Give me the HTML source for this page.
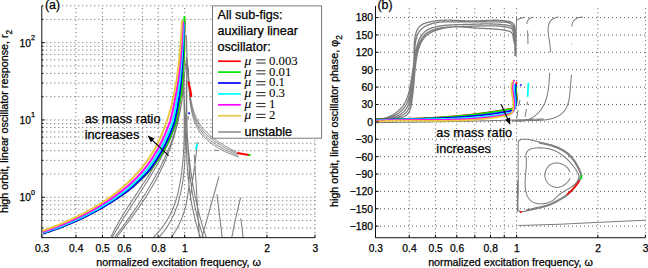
<!DOCTYPE html>
<html><head><meta charset="utf-8"><style>
html,body{margin:0;padding:0;background:#fff;width:648px;height:268px;overflow:hidden}
svg{display:block;font-family:"Liberation Sans",sans-serif}
text{stroke:#000;stroke-width:0.25px}
</style></head><body>
<svg width="648" height="268" viewBox="0 0 648 268">
<path d="M42.3 228.01H315M42.3 220.52H315M42.3 214.4H315M42.3 209.22H315M42.3 204.74H315M42.3 200.79H315M42.3 197.25H315M42.3 173.98H315M42.3 160.37H315M42.3 150.71H315M42.3 143.22H315M42.3 137.1H315M42.3 131.92H315M42.3 127.44H315M42.3 123.49H315M42.3 119.95H315M42.3 96.68H315M42.3 83.07H315M42.3 73.41H315M42.3 65.92H315M42.3 59.8H315M42.3 54.62H315M42.3 50.14H315M42.3 46.19H315M42.3 42.65H315M42.3 19.38H315M42.3 5.77H315M75.93 237.17V5.77M102.41 237.17V5.77M124.04 237.17V5.77M142.33 237.17V5.77M158.17 237.17V5.77M172.15 237.17V5.77M184.65 237.17V5.77M266.89 237.17V5.77M315 237.17V5.77" fill="none" stroke="#5e5e5e" stroke-width="1" stroke-dasharray="1 3"/><path d="M376 226.14H645.4M376 208.76H645.4M376 191.38H645.4M376 174H645.4M376 156.61H645.4M376 139.23H645.4M376 121.85H645.4M376 104.47H645.4M376 87.09H645.4M376 69.7H645.4M376 52.32H645.4M376 34.94H645.4M376 17.56H645.4M409.22 237.23V5.97M435.38 237.23V5.97M456.75 237.23V5.97M474.82 237.23V5.97M490.47 237.23V5.97M504.28 237.23V5.97M516.62 237.23V5.97M597.87 237.23V5.97M645.4 237.23V5.97" fill="none" stroke="#5e5e5e" stroke-width="1" stroke-dasharray="1 3"/><path d="M186.41 57.06 186.51 57.73 186.6 58.4 186.68 59.09 186.77 59.77 186.85 60.46 186.93 61.15 187 61.85 187.08 62.55 187.15 63.25 187.22 63.96 187.28 64.67 187.35 65.38 187.42 66.09 187.48 66.81 187.54 67.54 187.6 68.26 187.66 68.99 187.72 69.72 187.78 70.45 187.84 71.18 187.89 71.92 187.95 72.66 188.01 73.4 188.06 74.14 188.12 74.88 188.17 75.63 188.23 76.37 188.29 77.12 188.35 77.87 188.4 78.62 188.46 79.37 188.52 80.13 188.59 80.88 188.65 81.63 188.71 82.39 188.78 83.14 188.85 83.9 188.91 84.66 188.99 85.41 189.06 86.17 189.13 86.92 189.21 87.68 189.29 88.44 189.37 89.19 189.46 89.95 189.55 90.7 189.64 91.46 189.73 92.21 189.83 92.96 189.93 93.71 190.04 94.46 190.14 95.21 190.26 95.96 190.37 96.7 190.49 97.45 190.62 98.19 190.75 98.93 190.88 99.67 191.02 100.41 191.16 101.14 191.31 101.87 191.46 102.6 191.62 103.33 191.78 104.06 191.95 104.78 192.12 105.5 192.3 106.22 192.49 106.93 192.68 107.64 192.87 108.35 193.08 109.05 193.29 109.75 193.51 110.45 193.73 111.15 193.96 111.84 194.19 112.52 194.44 113.2 194.69 113.88 194.95 114.56 195.21 115.23 195.49 115.89 195.77 116.55 196.06 117.21 196.35 117.86 196.66 118.5 196.97 119.15 197.29 119.78 197.62 120.41 197.96 121.04 198.31 121.66 198.67 122.27 199.03 122.88 199.41 123.49 199.79 124.09 200.19 124.68 200.59 125.26 201 125.84 201.42 126.42 201.86 126.98 202.3 127.55 202.75 128.1 203.2 128.65 203.67 129.2 204.14 129.74 204.63 130.27 205.12 130.8 205.62 131.32 206.12 131.84 206.64 132.35 207.16 132.85 207.69 133.35 208.22 133.85 208.76 134.34 209.31 134.83 209.86 135.31 210.42 135.78 210.99 136.25 211.56 136.72 212.14 137.18 212.72 137.64 213.3 138.09 213.9 138.54 214.49 138.99 215.09 139.42 215.7 139.86 216.31 140.29 216.92 140.72 217.54 141.14 218.16 141.56 218.78 141.97 219.41 142.39 220.04 142.79 220.67 143.2 221.31 143.6 221.95 143.99 222.59 144.38 223.23 144.77 223.87 145.16 224.52 145.54 225.16 145.92 225.81 146.3 226.46 146.67 227.11 147.04 227.76 147.41 228.41 147.77 229.06 148.13 229.72 148.49 230.37 148.84 231.02 149.2 231.67 149.54 232.32 149.89 232.97 150.24 233.62 150.58 234.26 150.92 234.91 151.26 235.55 151.59 236.2 151.93 236.84 152.26 237.47 152.59M186.38 57.08 186.49 57.76 186.6 58.45 186.71 59.14 186.81 59.83 186.9 60.53 187 61.23 187.08 61.94 187.17 62.65 187.25 63.37 187.33 64.08 187.41 64.81 187.48 65.53 187.56 66.26 187.62 66.99 187.69 67.72 187.76 68.46 187.82 69.2 187.88 69.94 187.94 70.69 188 71.43 188.06 72.18 188.11 72.94 188.17 73.69 188.22 74.45 188.27 75.2 188.33 75.96 188.38 76.73 188.43 77.49 188.48 78.25 188.53 79.02 188.59 79.79 188.64 80.55 188.69 81.32 188.75 82.09 188.8 82.86 188.86 83.63 188.92 84.41 188.97 85.18 189.03 85.95 189.1 86.72 189.16 87.5 189.22 88.27 189.29 89.04 189.36 89.82 189.43 90.59 189.51 91.36 189.59 92.13 189.67 92.9 189.75 93.67 189.84 94.44 189.93 95.21 190.02 95.97 190.12 96.74 190.22 97.5 190.32 98.26 190.43 99.02 190.54 99.78 190.66 100.54 190.78 101.29 190.91 102.05 191.04 102.8 191.18 103.55 191.32 104.29 191.47 105.04 191.62 105.78 191.78 106.52 191.94 107.25 192.11 107.98 192.29 108.71 192.47 109.44 192.66 110.16 192.86 110.88 193.06 111.6 193.27 112.31 193.49 113.02 193.71 113.72 193.94 114.43 194.18 115.12 194.43 115.81 194.68 116.5 194.94 117.19 195.21 117.87 195.49 118.54 195.78 119.21 196.07 119.87 196.38 120.53 196.69 121.19 197.01 121.84 197.34 122.48 197.68 123.12 198.03 123.75 198.39 124.38 198.76 125 199.14 125.62 199.53 126.23 199.93 126.83 200.34 127.43 200.76 128.02 201.2 128.61 201.64 129.19 202.09 129.76 202.55 130.33 203.02 130.89 203.5 131.44 203.99 131.99 204.49 132.53 204.99 133.07 205.51 133.6 206.03 134.13 206.56 134.64 207.1 135.16 207.65 135.67 208.21 136.17 208.77 136.67 209.34 137.16 209.91 137.64 210.49 138.12 211.08 138.6 211.68 139.07 212.28 139.53 212.88 139.99 213.49 140.45 214.11 140.9 214.73 141.34 215.36 141.78 215.99 142.21 216.62 142.64 217.26 143.06 217.9 143.48 218.55 143.9 219.2 144.31 219.85 144.71 220.5 145.11 221.16 145.51 221.82 145.9 222.49 146.29 223.15 146.67 223.82 147.05 224.49 147.42 225.16 147.79 225.83 148.15 226.5 148.51 227.17 148.87 227.84 149.22 228.52 149.57 229.19 149.91 229.86 150.25 230.54 150.59 231.21 150.92 231.88 151.25 232.55 151.57 233.22 151.89 233.88 152.21 234.55 152.52 235.21 152.83 235.87 153.14 236.53 153.44 237.19 153.74 237.84 154.03M186.35 57.11 186.48 57.8 186.61 58.49 186.73 59.19 186.85 59.9 186.96 60.61 187.07 61.32 187.17 62.04 187.27 62.76 187.36 63.49 187.45 64.22 187.54 64.95 187.62 65.69 187.7 66.43 187.77 67.17 187.85 67.92 187.92 68.67 187.98 69.42 188.05 70.17 188.11 70.93 188.17 71.69 188.22 72.46 188.28 73.22 188.33 73.99 188.38 74.76 188.43 75.54 188.48 76.31 188.53 77.09 188.58 77.87 188.62 78.65 188.67 79.43 188.71 80.21 188.76 80.99 188.8 81.78 188.85 82.57 188.9 83.35 188.94 84.14 188.99 84.93 189.04 85.72 189.08 86.51 189.13 87.3 189.19 88.09 189.24 88.88 189.29 89.67 189.35 90.46 189.41 91.25 189.47 92.04 189.53 92.82 189.6 93.61 189.67 94.4 189.74 95.19 189.81 95.97 189.89 96.76 189.97 97.54 190.06 98.32 190.15 99.1 190.24 99.88 190.34 100.66 190.44 101.44 190.54 102.21 190.66 102.98 190.77 103.75 190.89 104.52 191.02 105.28 191.15 106.05 191.29 106.81 191.43 107.56 191.58 108.32 191.73 109.07 191.89 109.82 192.06 110.56 192.23 111.31 192.42 112.05 192.6 112.78 192.8 113.51 193 114.24 193.21 114.96 193.43 115.68 193.65 116.4 193.89 117.11 194.13 117.82 194.38 118.52 194.64 119.22 194.91 119.91 195.18 120.6 195.47 121.29 195.76 121.96 196.07 122.64 196.38 123.31 196.7 123.97 197.04 124.63 197.38 125.28 197.73 125.93 198.1 126.57 198.47 127.2 198.86 127.83 199.26 128.45 199.67 129.07 200.08 129.68 200.51 130.28 200.96 130.88 201.41 131.47 201.87 132.05 202.35 132.63 202.83 133.2 203.33 133.76 203.84 134.32 204.35 134.87 204.88 135.42 205.41 135.96 205.95 136.49 206.51 137.02 207.07 137.54 207.63 138.05 208.21 138.56 208.79 139.06 209.39 139.56 209.98 140.05 210.59 140.53 211.2 141.01 211.82 141.48 212.45 141.95 213.08 142.41 213.71 142.86 214.35 143.31 215 143.75 215.65 144.19 216.31 144.62 216.97 145.05 217.64 145.47 218.3 145.88 218.98 146.29 219.65 146.69 220.33 147.09 221.01 147.48 221.7 147.87 222.38 148.25 223.07 148.62 223.76 148.99 224.45 149.35 225.15 149.71 225.84 150.06 226.54 150.41 227.23 150.75 227.93 151.09 228.62 151.42 229.32 151.75 230.01 152.07 230.71 152.39 231.4 152.7 232.09 153 232.78 153.3 233.47 153.6 234.16 153.89 234.84 154.17 235.53 154.45 236.21 154.73 236.88 155 237.55 155.27 238.22 155.53M186.32 57.13 186.47 57.83 186.62 58.54 186.76 59.25 186.89 59.96 187.02 60.68 187.14 61.4 187.25 62.13 187.36 62.87 187.47 63.6 187.57 64.34 187.66 65.09 187.75 65.84 187.84 66.59 187.92 67.34 188 68.1 188.07 68.87 188.14 69.63 188.21 70.4 188.27 71.17 188.33 71.95 188.39 72.72 188.44 73.5 188.49 74.29 188.54 75.07 188.59 75.86 188.63 76.65 188.68 77.44 188.72 78.23 188.76 79.03 188.8 79.82 188.84 80.62 188.87 81.42 188.91 82.22 188.95 83.02 188.99 83.83 189.02 84.63 189.06 85.43 189.1 86.24 189.13 87.05 189.17 87.85 189.21 88.66 189.25 89.47 189.29 90.27 189.34 91.08 189.38 91.89 189.43 92.69 189.48 93.5 189.53 94.3 189.59 95.11 189.64 95.91 189.7 96.72 189.77 97.52 189.83 98.32 189.9 99.12 189.98 99.92 190.05 100.72 190.14 101.51 190.22 102.31 190.31 103.1 190.41 103.89 190.51 104.68 190.61 105.46 190.72 106.25 190.84 107.03 190.96 107.81 191.09 108.58 191.22 109.35 191.36 110.12 191.51 110.89 191.66 111.66 191.82 112.42 191.99 113.17 192.16 113.93 192.34 114.68 192.53 115.42 192.73 116.17 192.93 116.91 193.14 117.64 193.37 118.37 193.6 119.1 193.83 119.82 194.08 120.53 194.34 121.25 194.6 121.95 194.88 122.66 195.17 123.35 195.46 124.05 195.77 124.73 196.08 125.41 196.41 126.09 196.75 126.76 197.1 127.42 197.45 128.08 197.83 128.74 198.21 129.38 198.6 130.02 199.01 130.66 199.42 131.28 199.85 131.9 200.3 132.52 200.75 133.12 201.22 133.72 201.7 134.32 202.19 134.9 202.69 135.48 203.2 136.06 203.73 136.62 204.26 137.18 204.81 137.74 205.36 138.28 205.92 138.82 206.5 139.35 207.08 139.88 207.67 140.4 208.27 140.91 208.88 141.42 209.49 141.92 210.11 142.41 210.74 142.9 211.38 143.38 212.02 143.85 212.67 144.31 213.33 144.77 213.99 145.23 214.66 145.67 215.33 146.11 216.01 146.54 216.69 146.97 217.38 147.39 218.07 147.8 218.76 148.21 219.46 148.61 220.16 149.01 220.87 149.39 221.57 149.77 222.28 150.15 222.99 150.52 223.71 150.88 224.42 151.23 225.14 151.58 225.86 151.92 226.57 152.26 227.29 152.58 228.01 152.91 228.73 153.22 229.44 153.53 230.16 153.84 230.88 154.13 231.59 154.42 232.3 154.71 233.01 154.98 233.72 155.25 234.43 155.52 235.13 155.78 235.83 156.03 236.53 156.28 237.22 156.51 237.91 156.75 238.59 156.97" fill="none" stroke="#707070" stroke-width="0.9"/><path d="M110.73 237.19 111.23 236.17 111.74 235.15 112.25 234.14 112.77 233.13 113.29 232.11 113.82 231.11 114.35 230.1 114.89 229.09 115.43 228.09 115.98 227.09 116.53 226.09 117.09 225.09 117.65 224.09 118.22 223.09 118.79 222.1 119.36 221.11 119.94 220.11 120.52 219.12 121.11 218.13 121.69 217.15 122.29 216.16 122.88 215.17 123.48 214.19 124.08 213.2 124.69 212.22 125.3 211.24 125.91 210.26 126.52 209.28 127.14 208.3 127.75 207.32 128.37 206.34 129 205.36 129.62 204.38 130.25 203.41 130.88 202.43 131.51 201.46 132.14 200.48 132.77 199.51 133.4 198.53 134.04 197.56 134.67 196.58 135.31 195.61 135.95 194.64 136.59 193.67 137.23 192.69 137.87 191.72 138.51 190.75 139.15 189.77 139.79 188.8 140.43 187.83 141.07 186.86 141.71 185.88 142.34 184.91 142.98 183.93 143.62 182.96 144.26 181.99 144.89 181.01 145.53 180.04 146.16 179.06 146.8 178.08 147.43 177.11 148.06 176.13 148.69 175.15 149.31 174.17 149.94 173.19 150.56 172.21 151.18 171.23 151.8 170.25 152.42 169.26 153.03 168.28 153.64 167.3 154.25 166.31 154.85 165.32 155.46 164.33 156.06 163.34 156.65 162.35 157.25 161.36 157.83 160.37 158.42 159.37 159 158.38 159.58 157.38 160.16 156.38 160.73 155.38 161.29 154.38 161.85 153.38 162.41 152.37 162.97 151.36 163.51 150.36 164.06 149.35 164.6 148.33 165.13 147.32 165.66 146.3 166.18 145.29 166.7 144.27 167.21 143.24 167.72 142.22 168.22 141.19 168.72 140.17 169.21 139.14 169.69 138.1 170.17 137.07 170.64 136.03 171.1 134.99 171.56 133.95 172.01 132.9 172.46 131.86 172.89 130.81 173.32 129.76 173.75 128.7 174.16 127.64 174.57 126.58 174.97 125.52 175.36 124.46 175.75 123.39 176.13 122.32 176.5 121.24 176.86 120.16 177.21 119.08 177.55 118 177.89 116.92 178.22 115.83 178.54 114.73 178.85 113.64 179.15 112.54 179.44 111.44 179.72 110.33 179.99 109.22 180.26 108.11 180.51 106.99 180.76 105.87 180.99 104.75 181.22 103.62 181.43 102.49 181.63 101.36 181.83 100.22 182.01 99.08 182.18 97.93 182.35 96.78 182.5 95.63 182.64 94.47 182.77 93.31 182.89 92.15 182.99 90.98 183.09 89.81 183.17 88.63 183.24 87.45 183.3 86.26 183.35 85.07 183.39 83.88 183.41 82.68 183.43 81.47 183.43 80.27 183.41 79.05 183.39 77.84 183.35 76.62 183.3 75.39 183.24 74.16 183.16 72.92 183.07 71.68M112.3 237.1 112.85 236.11 113.4 235.13 113.96 234.15 114.52 233.17 115.09 232.19 115.65 231.21 116.23 230.23 116.8 229.25 117.38 228.28 117.97 227.3 118.55 226.32 119.14 225.35 119.73 224.37 120.33 223.4 120.92 222.43 121.52 221.45 122.12 220.48 122.73 219.51 123.34 218.54 123.94 217.56 124.56 216.59 125.17 215.62 125.78 214.65 126.4 213.68 127.02 212.71 127.64 211.74 128.26 210.77 128.88 209.8 129.51 208.83 130.13 207.86 130.76 206.89 131.38 205.92 132.01 204.95 132.64 203.98 133.27 203.01 133.9 202.04 134.53 201.06 135.16 200.09 135.79 199.12 136.42 198.15 137.05 197.18 137.69 196.21 138.32 195.23 138.95 194.26 139.58 193.29 140.21 192.31 140.84 191.34 141.46 190.36 142.09 189.39 142.72 188.41 143.34 187.44 143.97 186.46 144.59 185.48 145.21 184.5 145.84 183.52 146.45 182.54 147.07 181.56 147.69 180.58 148.3 179.6 148.92 178.61 149.53 177.63 150.13 176.64 150.74 175.66 151.34 174.67 151.94 173.68 152.54 172.69 153.14 171.7 153.73 170.71 154.32 169.72 154.91 168.72 155.5 167.73 156.08 166.73 156.66 165.73 157.23 164.73 157.8 163.73 158.37 162.73 158.93 161.73 159.49 160.72 160.05 159.71 160.6 158.71 161.15 157.7 161.7 156.69 162.24 155.67 162.77 154.66 163.3 153.64 163.83 152.63 164.35 151.61 164.87 150.59 165.38 149.56 165.89 148.54 166.39 147.51 166.89 146.48 167.38 145.45 167.87 144.42 168.35 143.39 168.83 142.35 169.3 141.31 169.76 140.27 170.22 139.23 170.67 138.19 171.12 137.14 171.56 136.09 171.99 135.04 172.42 133.99 172.84 132.93 173.26 131.87 173.66 130.81 174.07 129.75 174.46 128.68 174.85 127.62 175.23 126.55 175.6 125.48 175.96 124.4 176.32 123.32 176.67 122.24 177.01 121.16 177.35 120.08 177.68 118.99 178 117.9 178.31 116.8 178.61 115.71 178.91 114.61 179.19 113.51 179.47 112.4 179.74 111.3 180 110.19 180.25 109.07 180.5 107.96 180.73 106.84 180.96 105.72 181.17 104.59 181.38 103.46 181.58 102.33 181.77 101.2 181.94 100.06 182.11 98.92 182.27 97.77 182.42 96.62 182.56 95.47 182.69 94.32 182.81 93.16 182.92 92 183.02 90.84 183.11 89.67 183.18 88.5 183.25 87.32 183.31 86.14 183.35 84.96 183.39 83.78 183.41 82.59 183.42 81.39 183.42 80.2 183.41 79 183.39 77.79 183.35 76.58 183.31 75.37 183.25 74.16 183.18 72.94 183.1 71.71M114.93 236.85 115.61 235.96 116.29 235.06 116.98 234.17 117.66 233.27 118.34 232.38 119.02 231.48 119.7 230.58 120.38 229.67 121.06 228.77 121.73 227.86 122.41 226.95 123.08 226.04 123.76 225.13 124.43 224.21 125.1 223.29 125.78 222.38 126.45 221.46 127.11 220.53 127.78 219.61 128.45 218.68 129.11 217.75 129.78 216.83 130.44 215.89 131.1 214.96 131.76 214.02 132.41 213.09 133.07 212.15 133.72 211.21 134.37 210.26 135.02 209.32 135.67 208.37 136.31 207.42 136.96 206.47 137.6 205.52 138.24 204.57 138.88 203.61 139.51 202.65 140.14 201.69 140.77 200.73 141.4 199.77 142.02 198.8 142.65 197.83 143.27 196.86 143.88 195.89 144.5 194.92 145.11 193.94 145.72 192.97 146.33 191.99 146.93 191.01 147.53 190.03 148.13 189.04 148.72 188.06 149.31 187.07 149.9 186.08 150.48 185.09 151.07 184.09 151.64 183.1 152.22 182.1 152.79 181.1 153.36 180.1 153.92 179.1 154.48 178.09 155.04 177.09 155.59 176.08 156.14 175.07 156.69 174.06 157.23 173.04 157.77 172.03 158.3 171.01 158.83 169.99 159.35 168.97 159.88 167.94 160.39 166.92 160.91 165.89 161.42 164.86 161.92 163.83 162.42 162.8 162.91 161.76 163.41 160.73 163.89 159.69 164.37 158.65 164.85 157.61 165.32 156.56 165.79 155.52 166.25 154.47 166.71 153.42 167.16 152.37 167.61 151.32 168.05 150.26 168.49 149.2 168.92 148.15 169.35 147.09 169.77 146.02 170.19 144.96 170.6 143.89 171.01 142.83 171.41 141.76 171.8 140.68 172.19 139.61 172.58 138.54 172.95 137.46 173.33 136.38 173.69 135.3 174.05 134.22 174.41 133.13 174.75 132.05 175.1 130.96 175.43 129.87 175.76 128.78 176.09 127.68 176.41 126.59 176.72 125.49 177.02 124.39 177.32 123.29 177.61 122.19 177.9 121.08 178.18 119.97 178.45 118.87 178.72 117.76 178.98 116.64 179.23 115.53 179.48 114.41 179.72 113.3 179.95 112.18 180.17 111.06 180.39 109.93 180.6 108.81 180.8 107.68 181 106.55 181.19 105.42 181.37 104.29 181.55 103.16 181.71 102.02 181.87 100.88 182.03 99.74 182.17 98.6 182.31 97.46 182.44 96.31 182.56 95.17 182.67 94.02 182.78 92.87 182.88 91.71 182.97 90.56 183.05 89.4 183.12 88.25 183.19 87.09 183.25 85.92 183.3 84.76 183.34 83.6 183.37 82.43 183.39 81.26 183.41 80.09 183.42 78.92 183.42 77.74 183.41 76.57 183.39 75.39 183.36 74.21 183.33 73.03 183.28 71.84M116.87 236.99 117.54 236.08 118.21 235.18 118.89 234.28 119.56 233.37 120.24 232.47 120.92 231.57 121.6 230.67 122.28 229.76 122.96 228.86 123.64 227.96 124.32 227.06 125.01 226.15 125.69 225.25 126.37 224.35 127.06 223.45 127.74 222.54 128.42 221.64 129.1 220.73 129.78 219.82 130.46 218.91 131.14 218 131.82 217.09 132.5 216.18 133.17 215.27 133.84 214.35 134.52 213.44 135.18 212.52 135.85 211.6 136.52 210.67 137.18 209.75 137.84 208.82 138.49 207.89 139.15 206.96 139.8 206.03 140.44 205.09 141.09 204.15 141.73 203.21 142.37 202.27 143 201.32 143.63 200.38 144.26 199.43 144.89 198.47 145.51 197.52 146.12 196.56 146.74 195.59 147.35 194.63 147.95 193.66 148.55 192.69 149.15 191.72 149.74 190.74 150.33 189.77 150.91 188.78 151.49 187.8 152.07 186.81 152.64 185.82 153.2 184.83 153.77 183.83 154.32 182.83 154.88 181.83 155.42 180.82 155.97 179.82 156.51 178.81 157.04 177.79 157.57 176.78 158.1 175.76 158.62 174.74 159.13 173.72 159.64 172.69 160.15 171.66 160.65 170.63 161.15 169.6 161.64 168.56 162.13 167.52 162.61 166.48 163.09 165.44 163.56 164.39 164.03 163.35 164.49 162.3 164.95 161.24 165.4 160.19 165.85 159.13 166.29 158.07 166.73 157.01 167.16 155.95 167.59 154.88 168.01 153.81 168.43 152.75 168.84 151.67 169.25 150.6 169.65 149.52 170.05 148.45 170.44 147.37 170.82 146.29 171.2 145.2 171.58 144.12 171.95 143.03 172.31 141.94 172.67 140.85 173.03 139.76 173.37 138.66 173.72 137.57 174.05 136.47 174.38 135.37 174.71 134.27 175.03 133.17 175.35 132.07 175.66 130.96 175.96 129.85 176.26 128.74 176.55 127.63 176.84 126.52 177.12 125.41 177.39 124.3 177.66 123.18 177.93 122.06 178.19 120.95 178.44 119.83 178.68 118.71 178.92 117.58 179.16 116.46 179.39 115.34 179.61 114.21 179.83 113.09 180.04 111.96 180.24 110.83 180.44 109.7 180.64 108.57 180.82 107.44 181 106.3 181.18 105.17 181.35 104.04 181.51 102.9 181.66 101.76 181.81 100.63 181.96 99.49 182.09 98.35 182.23 97.21 182.35 96.07 182.47 94.93 182.58 93.79 182.69 92.65 182.79 91.5 182.88 90.36 182.97 89.22 183.05 88.07 183.12 86.93 183.19 85.78 183.25 84.63 183.3 83.49 183.35 82.34 183.39 81.19 183.42 80.05 183.45 78.9 183.47 77.75 183.49 76.6 183.49 75.45 183.5 74.3 183.49 73.15 183.48 72M184.57 35.02 184.47 36.31 184.38 37.61 184.29 38.91 184.21 40.21 184.13 41.51 184.06 42.82 183.99 44.12 183.92 45.42 183.86 46.73 183.81 48.04 183.76 49.34 183.71 50.65 183.67 51.96 183.63 53.27 183.6 54.58 183.57 55.89 183.54 57.2 183.52 58.52 183.5 59.83 183.48 61.15 183.47 62.46 183.46 63.78 183.46 65.09 183.45 66.41 183.45 67.73 183.45 69.05 183.45 70.36 183.46 71.68 183.47 73 183.48 74.32 183.49 75.64 183.51 76.97 183.52 78.29 183.54 79.61 183.56 80.93 183.58 82.26 183.6 83.58 183.62 84.9 183.65 86.23 183.67 87.55 183.7 88.88 183.72 90.2 183.75 91.53 183.78 92.85 183.81 94.18 183.83 95.5 183.86 96.83 183.89 98.15 183.92 99.48 183.94 100.81 183.97 102.13 184 103.46 184.02 104.79 184.05 106.11 184.07 107.44 184.1 108.77 184.12 110.09 184.14 111.42 184.16 112.75 184.18 114.07 184.19 115.4 184.21 116.73 184.22 118.05 184.23 119.38 184.24 120.71 184.25 122.03 184.25 123.36 184.25 124.68 184.25 126.01 184.25 127.33 184.24 128.66 184.23 129.98 184.22 131.3 184.2 132.63 184.19 133.95 184.16 135.27 184.14 136.6 184.11 137.92 184.08 139.24 184.04 140.56 184 141.88 183.95 143.2 183.9 144.52 183.85 145.84 183.79 147.16 183.73 148.47 183.66 149.79 183.59 151.11 183.51 152.42 183.43 153.74 183.34 155.05 183.25 156.37 183.15 157.68 183.05 158.99 182.94 160.3 182.83 161.62 182.71 162.93 182.58 164.23 182.45 165.54 182.31 166.85 182.16 168.16 182.01 169.46 181.85 170.77 181.68 172.07 181.51 173.37 181.33 174.68 181.15 175.98 180.95 177.28 180.75 178.58 180.54 179.87 180.33 181.17 180.1 182.47 179.87 183.76 179.63 185.05 179.38 186.34 179.12 187.63 178.85 188.92 178.57 190.2 178.28 191.48 177.98 192.76 177.67 194.04 177.34 195.31 177 196.57 176.65 197.83 176.29 199.09 175.91 200.34 175.51 201.59 175.1 202.83 174.67 204.07 174.23 205.3 173.77 206.52 173.29 207.74 172.8 208.95 172.29 210.15 171.75 211.34 171.2 212.53 170.63 213.71 170.04 214.88 169.43 216.04 168.79 217.19 168.14 218.33 167.47 219.47 166.78 220.59 166.07 221.71 165.34 222.81 164.59 223.91 163.83 225 163.04 226.08 162.25 227.15 161.43 228.21 160.6 229.26 159.76 230.3 158.89 231.34 158.02 232.36 157.13 233.37 156.23 234.38 155.31 235.37 154.38 236.35 153.44 237.33M184.81 35.06 184.66 36.33 184.52 37.6 184.39 38.88 184.26 40.16 184.15 41.43 184.04 42.72 183.93 44 183.84 45.28 183.75 46.57 183.66 47.85 183.58 49.14 183.51 50.43 183.45 51.72 183.39 53.02 183.34 54.31 183.29 55.61 183.25 56.91 183.21 58.21 183.18 59.51 183.15 60.81 183.13 62.11 183.11 63.42 183.1 64.72 183.09 66.03 183.09 67.34 183.09 68.65 183.1 69.96 183.1 71.27 183.12 72.58 183.13 73.89 183.15 75.21 183.18 76.52 183.2 77.84 183.23 79.16 183.26 80.48 183.3 81.8 183.33 83.12 183.37 84.44 183.42 85.76 183.46 87.08 183.51 88.4 183.55 89.73 183.6 91.05 183.65 92.37 183.71 93.7 183.76 95.03 183.82 96.35 183.87 97.68 183.93 99.01 183.98 100.33 184.04 101.66 184.1 102.99 184.16 104.32 184.22 105.65 184.27 106.97 184.33 108.3 184.39 109.63 184.45 110.96 184.5 112.29 184.56 113.62 184.61 114.95 184.67 116.28 184.72 117.61 184.77 118.94 184.82 120.27 184.87 121.6 184.91 122.93 184.95 124.26 185 125.59 185.03 126.92 185.07 128.24 185.11 129.57 185.14 130.9 185.16 132.23 185.19 133.55 185.21 134.88 185.23 136.21 185.25 137.53 185.26 138.86 185.27 140.18 185.27 141.51 185.27 142.83 185.27 144.15 185.26 145.47 185.24 146.79 185.23 148.11 185.2 149.43 185.18 150.75 185.14 152.07 185.11 153.39 185.06 154.71 185.01 156.02 184.96 157.33 184.9 158.65 184.83 159.96 184.76 161.27 184.68 162.58 184.6 163.89 184.5 165.2 184.41 166.51 184.3 167.81 184.19 169.12 184.07 170.42 183.94 171.72 183.81 173.02 183.67 174.32 183.52 175.62 183.36 176.91 183.19 178.21 183.02 179.5 182.84 180.79 182.65 182.08 182.45 183.37 182.24 184.66 182.02 185.94 181.79 187.22 181.56 188.5 181.31 189.78 181.05 191.06 180.78 192.33 180.51 193.6 180.21 194.86 179.91 196.13 179.6 197.38 179.27 198.64 178.93 199.89 178.58 201.14 178.21 202.38 177.83 203.62 177.44 204.85 177.03 206.08 176.61 207.3 176.17 208.52 175.72 209.73 175.26 210.94 174.77 212.14 174.27 213.33 173.76 214.52 173.23 215.71 172.68 216.88 172.11 218.05 171.53 219.21 170.93 220.37 170.31 221.52 169.67 222.66 169.01 223.79 168.33 224.91 167.64 226.03 166.92 227.14 166.19 228.24 165.43 229.33 164.65 230.41 163.86 231.49 163.04 232.55 162.2 233.61 161.34 234.65 160.45 235.69 159.54 236.72 158.61 237.73M186.36 60.03 186.17 61.15 185.98 62.27 185.81 63.39 185.65 64.51 185.49 65.63 185.34 66.75 185.21 67.88 185.08 69 184.96 70.12 184.84 71.25 184.74 72.38 184.64 73.5 184.55 74.63 184.47 75.76 184.4 76.89 184.34 78.02 184.28 79.15 184.23 80.28 184.18 81.42 184.14 82.55 184.11 83.68 184.09 84.82 184.07 85.95 184.06 87.09 184.05 88.22 184.05 89.36 184.06 90.49 184.07 91.63 184.08 92.77 184.1 93.91 184.13 95.05 184.16 96.18 184.2 97.32 184.24 98.46 184.28 99.61 184.33 100.75 184.38 101.89 184.44 103.03 184.5 104.17 184.57 105.31 184.64 106.46 184.71 107.6 184.78 108.74 184.86 109.89 184.94 111.03 185.02 112.17 185.11 113.32 185.2 114.46 185.29 115.61 185.38 116.75 185.48 117.9 185.57 119.04 185.67 120.19 185.77 121.33 185.87 122.48 185.97 123.63 186.08 124.77 186.18 125.92 186.28 127.06 186.39 128.21 186.5 129.36 186.6 130.5 186.71 131.65 186.81 132.8 186.92 133.94 187.02 135.09 187.13 136.24 187.23 137.38 187.33 138.53 187.44 139.67 187.54 140.82 187.64 141.97 187.73 143.11 187.83 144.26 187.92 145.4 188.02 146.55 188.11 147.69 188.19 148.84 188.28 149.98 188.36 151.13 188.44 152.27 188.52 153.42 188.6 154.56 188.67 155.7 188.73 156.85 188.8 157.99 188.86 159.13 188.92 160.27 188.97 161.42 189.02 162.56 189.06 163.7 189.1 164.84 189.14 165.98 189.17 167.12 189.19 168.26 189.21 169.4 189.23 170.53 189.23 171.67 189.24 172.81 189.23 173.94 189.22 175.08 189.21 176.21 189.18 177.34 189.15 178.47 189.12 179.6 189.07 180.73 189.02 181.86 188.96 182.99 188.89 184.11 188.82 185.24 188.73 186.36 188.64 187.48 188.54 188.6 188.43 189.72 188.31 190.84 188.19 191.95 188.05 193.07 187.9 194.18 187.75 195.29 187.58 196.4 187.4 197.5 187.22 198.61 187.02 199.71 186.81 200.81 186.59 201.91 186.36 203.01 186.12 204.1 185.87 205.19 185.6 206.28 185.33 207.37 185.04 208.46 184.74 209.54 184.43 210.62 184.1 211.69 183.76 212.77 183.41 213.84 183.05 214.91 182.67 215.97 182.28 217.03 181.87 218.09 181.45 219.15 181.02 220.2 180.57 221.25 180.11 222.3 179.63 223.34 179.14 224.38 178.63 225.41 178.11 226.45 177.57 227.48 177.01 228.5 176.44 229.52 175.86 230.54 175.25 231.55 174.64 232.56 174 233.57 173.35 234.57 172.68 235.56 171.99 236.56 171.29 237.54M186.31 35 186.37 36.27 186.44 37.54 186.5 38.8 186.55 40.07 186.6 41.34 186.65 42.61 186.7 43.88 186.74 45.15 186.78 46.42 186.82 47.69 186.85 48.97 186.88 50.24 186.91 51.51 186.93 52.79 186.96 54.06 186.98 55.34 186.99 56.61 187.01 57.89 187.02 59.17 187.03 60.44 187.04 61.72 187.05 63 187.05 64.28 187.05 65.56 187.05 66.84 187.05 68.12 187.05 69.4 187.04 70.68 187.03 71.96 187.02 73.24 187.01 74.53 187 75.81 186.99 77.09 186.98 78.38 186.96 79.66 186.95 80.94 186.93 82.23 186.91 83.51 186.89 84.8 186.87 86.08 186.85 87.37 186.83 88.65 186.81 89.94 186.79 91.23 186.76 92.51 186.74 93.8 186.72 95.09 186.69 96.37 186.67 97.66 186.65 98.95 186.62 100.23 186.6 101.52 186.58 102.81 186.55 104.1 186.53 105.38 186.51 106.67 186.49 107.96 186.47 109.25 186.44 110.54 186.43 111.82 186.41 113.11 186.39 114.4 186.37 115.69 186.35 116.98 186.34 118.26 186.33 119.55 186.31 120.84 186.3 122.13 186.29 123.41 186.28 124.7 186.27 125.99 186.27 127.28 186.27 128.56 186.26 129.85 186.26 131.14 186.27 132.42 186.27 133.71 186.27 135 186.28 136.28 186.29 137.57 186.3 138.85 186.32 140.14 186.34 141.43 186.36 142.71 186.38 143.99 186.4 145.28 186.43 146.56 186.46 147.85 186.49 149.13 186.53 150.41 186.57 151.7 186.61 152.98 186.66 154.26 186.71 155.54 186.76 156.82 186.82 158.1 186.87 159.38 186.94 160.66 187 161.94 187.07 163.22 187.15 164.5 187.22 165.78 187.31 167.06 187.39 168.33 187.48 169.61 187.58 170.88 187.67 172.16 187.78 173.43 187.88 174.71 187.99 175.98 188.11 177.26 188.23 178.53 188.35 179.8 188.48 181.07 188.62 182.34 188.76 183.61 188.9 184.88 189.05 186.15 189.21 187.42 189.37 188.68 189.53 189.95 189.7 191.22 189.88 192.48 190.06 193.75 190.25 195.01 190.44 196.27 190.64 197.53 190.84 198.79 191.05 200.05 191.27 201.31 191.49 202.57 191.72 203.83 191.95 205.09 192.19 206.34 192.44 207.6 192.69 208.85 192.95 210.11 193.22 211.36 193.49 212.61 193.77 213.86 194.06 215.11 194.35 216.36 194.65 217.61 194.96 218.85 195.27 220.1 195.6 221.34 195.92 222.59 196.26 223.83 196.6 225.07 196.96 226.31 197.31 227.55 197.68 228.79 198.05 230.03 198.44 231.26 198.82 232.5 199.22 233.73 199.63 234.96 200.04 236.19 200.46 237.42M186.46 60.01 186.48 61.12 186.5 62.24 186.52 63.36 186.53 64.47 186.55 65.59 186.57 66.71 186.58 67.82 186.59 68.94 186.61 70.06 186.62 71.18 186.63 72.3 186.64 73.42 186.65 74.54 186.66 75.67 186.66 76.79 186.67 77.91 186.68 79.03 186.68 80.16 186.69 81.28 186.69 82.4 186.7 83.53 186.7 84.65 186.71 85.78 186.71 86.9 186.72 88.03 186.72 89.15 186.72 90.28 186.73 91.41 186.73 92.53 186.73 93.66 186.74 94.79 186.74 95.92 186.74 97.04 186.75 98.17 186.75 99.3 186.76 100.43 186.76 101.56 186.77 102.69 186.77 103.82 186.78 104.95 186.79 106.08 186.79 107.21 186.8 108.33 186.81 109.46 186.82 110.59 186.83 111.72 186.84 112.86 186.85 113.99 186.86 115.12 186.87 116.25 186.89 117.38 186.9 118.51 186.92 119.64 186.94 120.77 186.96 121.9 186.98 123.03 187 124.16 187.02 125.29 187.04 126.42 187.07 127.55 187.09 128.68 187.12 129.81 187.15 130.94 187.18 132.07 187.21 133.2 187.24 134.33 187.28 135.46 187.32 136.59 187.36 137.72 187.4 138.85 187.44 139.98 187.48 141.11 187.53 142.24 187.58 143.37 187.63 144.49 187.68 145.62 187.73 146.75 187.79 147.88 187.85 149 187.91 150.13 187.97 151.26 188.04 152.38 188.11 153.51 188.18 154.64 188.25 155.76 188.32 156.89 188.4 158.01 188.48 159.14 188.57 160.26 188.65 161.39 188.74 162.51 188.83 163.63 188.92 164.76 189.02 165.88 189.12 167 189.22 168.12 189.33 169.24 189.44 170.36 189.55 171.48 189.66 172.6 189.78 173.72 189.9 174.84 190.03 175.96 190.15 177.07 190.29 178.19 190.42 179.31 190.56 180.42 190.7 181.54 190.84 182.65 190.99 183.77 191.14 184.88 191.3 185.99 191.46 187.11 191.62 188.22 191.79 189.33 191.96 190.44 192.13 191.55 192.31 192.66 192.49 193.77 192.68 194.87 192.87 195.98 193.07 197.09 193.26 198.19 193.47 199.3 193.67 200.4 193.89 201.51 194.1 202.61 194.32 203.71 194.55 204.81 194.77 205.91 195.01 207.01 195.25 208.11 195.49 209.21 195.73 210.3 195.99 211.4 196.24 212.49 196.5 213.59 196.77 214.68 197.04 215.77 197.32 216.86 197.6 217.96 197.88 219.04 198.17 220.13 198.47 221.22 198.77 222.31 199.08 223.39 199.39 224.48 199.7 225.56 200.02 226.64 200.35 227.73 200.68 228.81 201.02 229.89 201.36 230.97 201.71 232.04 202.07 233.12 202.43 234.19 202.79 235.27 203.16 236.34 203.54 237.41M186.46 80.01 186.44 81.01 186.42 82.01 186.41 83.01 186.39 84 186.38 85 186.36 86 186.35 87 186.34 88 186.33 89 186.33 90 186.32 91 186.31 92 186.31 93 186.31 94 186.3 95.01 186.3 96.01 186.3 97.01 186.3 98.01 186.31 99.01 186.31 100.02 186.32 101.02 186.32 102.02 186.33 103.02 186.34 104.03 186.35 105.03 186.37 106.03 186.38 107.03 186.39 108.04 186.41 109.04 186.43 110.04 186.45 111.05 186.47 112.05 186.49 113.05 186.52 114.06 186.54 115.06 186.57 116.07 186.6 117.07 186.63 118.07 186.66 119.08 186.69 120.08 186.73 121.08 186.76 122.09 186.8 123.09 186.84 124.1 186.88 125.1 186.93 126.1 186.97 127.11 187.02 128.11 187.07 129.11 187.12 130.12 187.17 131.12 187.22 132.12 187.28 133.13 187.34 134.13 187.39 135.13 187.46 136.14 187.52 137.14 187.58 138.14 187.65 139.14 187.72 140.15 187.79 141.15 187.86 142.15 187.93 143.15 188.01 144.15 188.09 145.16 188.17 146.16 188.25 147.16 188.33 148.16 188.42 149.16 188.51 150.16 188.6 151.16 188.69 152.16 188.78 153.16 188.88 154.16 188.98 155.16 189.08 156.16 189.18 157.16 189.29 158.16 189.39 159.15 189.5 160.15 189.61 161.15 189.73 162.15 189.84 163.14 189.96 164.14 190.08 165.14 190.2 166.13 190.33 167.13 190.45 168.12 190.58 169.12 190.71 170.11 190.85 171.11 190.99 172.1 191.12 173.09 191.27 174.09 191.41 175.08 191.55 176.07 191.7 177.06 191.85 178.06 192.01 179.05 192.16 180.04 192.32 181.03 192.48 182.02 192.65 183.01 192.81 183.99 192.98 184.98 193.15 185.97 193.32 186.96 193.5 187.94 193.68 188.93 193.86 189.92 194.04 190.9 194.23 191.89 194.42 192.87 194.61 193.85 194.81 194.84 195 195.82 195.2 196.8 195.41 197.78 195.61 198.76 195.82 199.74 196.03 200.72 196.24 201.7 196.46 202.68 196.68 203.66 196.9 204.63 197.13 205.61 197.36 206.58 197.59 207.56 197.82 208.53 198.06 209.51 198.3 210.48 198.54 211.45 198.79 212.42 199.03 213.4 199.29 214.37 199.54 215.34 199.8 216.3 200.06 217.27 200.32 218.24 200.59 219.21 200.86 220.17 201.13 221.14 201.41 222.1 201.69 223.06 201.97 224.03 202.25 224.99 202.54 225.95 202.83 226.91 203.13 227.87 203.43 228.83 203.73 229.79 204.03 230.74 204.34 231.7 204.65 232.66 204.97 233.61 205.28 234.56 205.6 235.52 205.93 236.47 206.26 237.42M214.5 149.9L218 150.6M188.3 116.6L188.2 119.6M194.3 154.6 194.34 155.3 194.39 155.99 194.43 156.69 194.48 157.38 194.52 158.08 194.56 158.77 194.61 159.47 194.65 160.17 194.7 160.86 194.74 161.56 194.78 162.25 194.83 162.95 194.87 163.64 194.91 164.34 194.96 165.04 195 165.73 195.05 166.43 195.09 167.12 195.13 167.82 195.18 168.51 195.22 169.21 195.26 169.91 195.31 170.6 195.35 171.3 195.39 171.99 195.44 172.69 195.48 173.38 195.52 174.08 195.57 174.78 195.61 175.47 195.65 176.17 195.69 176.86 195.74 177.56 195.78 178.25 195.82 178.95 195.87 179.65 195.91 180.34 195.95 181.04 195.99 181.73 196.04 182.43 196.08 183.12 196.12 183.82 196.17 184.52 196.21 185.21 196.25 185.91 196.29 186.6 196.34 187.3 196.38 187.99 196.42 188.69 196.46 189.39 196.5 190.08 196.55 190.78 196.59 191.47 196.63 192.17 196.67 192.87 196.72 193.56 196.76 194.26 196.8 194.95 196.84 195.65 196.88 196.34 196.93 197.04 196.97 197.74 197.01 198.43 197.05 199.13 197.09 199.82 197.14 200.52 197.18 201.21 197.22 201.91 197.26 202.61 197.3 203.3 197.34 204 197.39 204.69 197.43 205.39 197.47 206.09 197.51 206.78 197.55 207.48 197.59 208.17 197.63 208.87 197.68 209.56 197.72 210.26 197.76 210.96 197.8 211.65 197.84 212.35 197.88 213.04 197.92 213.74 197.96 214.44 198.01 215.13 198.05 215.83 198.09 216.52 198.13 217.22 198.17 217.91 198.21 218.61 198.25 219.31 198.29 220 198.33 220.7 198.37 221.39 198.41 222.09 198.45 222.79 198.5 223.48 198.54 224.18 198.58 224.87 198.62 225.57 198.66 226.27 198.7 226.96 198.74 227.66 198.78 228.35 198.82 229.05 198.86 229.74 198.9 230.44 198.94 231.14 198.98 231.83 199.02 232.53 199.06 233.22 199.1 233.92 199.14 234.62 199.18 235.31 199.22 236.01 199.26 236.7 199.3 237.4M197.2 142 197.17 142.49 197.13 142.98 197.1 143.47 197.07 143.96 197.03 144.45 196.99 144.94 196.96 145.43 196.92 145.92 196.88 146.41 196.84 146.9 196.8 147.39 196.76 147.88 196.72 148.37 196.68 148.86 196.63 149.35 196.59 149.84 196.54 150.33 196.5 150.82 196.45 151.31 196.4 151.8 196.36 152.29 196.31 152.77 196.26 153.26 196.21 153.75 196.16 154.24 196.11 154.73 196.05 155.22 196 155.71 195.95 156.19 195.89 156.68 195.84 157.17 195.78 157.66 195.72 158.14 195.67 158.63 195.61 159.12 195.55 159.61 195.49 160.1 195.43 160.58 195.37 161.07 195.3 161.56 195.24 162.04 195.18 162.53 195.11 163.02 195.05 163.5 194.98 163.99 194.91 164.48 194.85 164.96 194.78 165.45 194.71 165.94 194.64 166.42 194.57 166.91 194.5 167.39 194.42 167.88 194.35 168.37 194.28 168.85 194.2 169.34 194.13 169.82 194.05 170.31 193.98 170.79 193.9 171.28 193.82 171.77 193.75 172.25 193.68 172.74 193.6 173.22 193.53 173.71 193.45 174.19 193.38 174.68 193.31 175.17 193.24 175.65 193.16 176.14 193.09 176.62 193.02 177.11 192.95 177.6 192.88 178.08 192.81 178.57 192.74 179.05 192.67 179.54 192.6 180.03 192.53 180.51 192.46 181 192.39 181.49 192.32 181.97 192.25 182.46 192.18 182.95 192.12 183.43 192.05 183.92 191.98 184.41 191.92 184.89 191.85 185.38 191.78 185.87 191.72 186.35 191.65 186.84 191.59 187.33 191.52 187.81 191.46 188.3 191.39 188.79 191.33 189.27 191.26 189.76 191.2 190.25 191.14 190.74 191.08 191.22 191.01 191.71 190.95 192.2 190.89 192.68 190.83 193.17 190.77 193.66 190.71 194.15 190.65 194.63 190.59 195.12 190.53 195.61 190.47 196.1 190.41 196.59 190.35 197.07 190.29 197.56 190.23 198.05 190.17 198.54 190.11 199.02 190.06 199.51 190 200M219 176.4 218.86 176.91 218.71 177.43 218.57 177.94 218.43 178.45 218.28 178.96 218.14 179.48 218 179.99 217.85 180.5 217.71 181.01 217.57 181.53 217.42 182.04 217.28 182.55 217.14 183.07 216.99 183.58 216.85 184.09 216.71 184.6 216.57 185.12 216.42 185.63 216.28 186.14 216.14 186.65 215.99 187.17 215.85 187.68 215.71 188.19 215.56 188.71 215.42 189.22 215.27 189.73 215.13 190.24 214.99 190.76 214.84 191.27 214.7 191.78 214.56 192.29 214.41 192.81 214.27 193.32 214.13 193.83 213.98 194.34 213.84 194.86 213.7 195.37 213.55 195.88 213.41 196.4 213.27 196.91 213.12 197.42 212.98 197.93 212.84 198.45 212.69 198.96 212.55 199.47 212.41 199.98 212.26 200.5 212.12 201.01 211.97 201.52 211.83 202.03 211.69 202.55 211.54 203.06 211.4 203.57 211.26 204.09 211.11 204.6 210.97 205.11 210.83 205.62 210.68 206.14 210.54 206.65 210.39 207.16 210.25 207.67 210.11 208.19 209.96 208.7 209.82 209.21 209.68 209.72 209.53 210.24 209.39 210.75 209.24 211.26 209.1 211.77 208.96 212.29 208.81 212.8 208.67 213.31 208.53 213.82 208.38 214.34 208.24 214.85 208.09 215.36 207.95 215.87 207.81 216.39 207.66 216.9 207.52 217.41 207.37 217.92 207.23 218.44 207.09 218.95 206.94 219.46 206.8 219.98 206.65 220.49 206.51 221 206.37 221.51 206.22 222.03 206.08 222.54 205.94 223.05 205.79 223.56 205.65 224.08 205.5 224.59 205.36 225.1 205.22 225.61 205.07 226.13 204.93 226.64 204.78 227.15 204.64 227.66 204.49 228.18 204.35 228.69 204.21 229.2 204.06 229.71 203.92 230.23 203.77 230.74 203.63 231.25 203.49 231.76 203.34 232.28 203.2 232.79 203.05 233.3 202.91 233.81 202.77 234.33 202.62 234.84 202.48 235.35 202.33 235.86 202.19 236.38 202.04 236.89 201.9 237.4M216.9 194.3 216.95 194.66 216.99 195.02 217.04 195.39 217.09 195.75 217.13 196.11 217.18 196.47 217.22 196.83 217.27 197.2 217.32 197.56 217.36 197.92 217.41 198.28 217.45 198.64 217.5 199.01 217.55 199.37 217.59 199.73 217.64 200.09 217.68 200.45 217.73 200.82 217.78 201.18 217.82 201.54 217.87 201.9 217.91 202.26 217.96 202.63 218 202.99 218.05 203.35 218.09 203.71 218.14 204.07 218.19 204.44 218.23 204.8 218.28 205.16 218.32 205.52 218.37 205.88 218.41 206.25 218.46 206.61 218.5 206.97 218.55 207.33 218.59 207.7 218.64 208.06 218.68 208.42 218.73 208.78 218.77 209.14 218.82 209.51 218.86 209.87 218.91 210.23 218.95 210.59 219 210.95 219.04 211.32 219.09 211.68 219.13 212.04 219.18 212.4 219.22 212.76 219.27 213.13 219.31 213.49 219.36 213.85 219.4 214.21 219.45 214.58 219.49 214.94 219.54 215.3 219.58 215.66 219.63 216.02 219.67 216.39 219.72 216.75 219.76 217.11 219.8 217.47 219.85 217.84 219.89 218.2 219.94 218.56 219.98 218.92 220.03 219.28 220.07 219.65 220.11 220.01 220.16 220.37 220.2 220.73 220.25 221.1 220.29 221.46 220.33 221.82 220.38 222.18 220.42 222.54 220.47 222.91 220.51 223.27 220.55 223.63 220.6 223.99 220.64 224.36 220.69 224.72 220.73 225.08 220.77 225.44 220.82 225.8 220.86 226.17 220.9 226.53 220.95 226.89 220.99 227.25 221.04 227.62 221.08 227.98 221.12 228.34 221.17 228.7 221.21 229.07 221.25 229.43 221.3 229.79 221.34 230.15 221.38 230.51 221.43 230.88 221.47 231.24 221.51 231.6 221.56 231.96 221.6 232.33 221.64 232.69 221.69 233.05 221.73 233.41 221.77 233.78 221.81 234.14 221.86 234.5 221.9 234.86 221.94 235.23 221.99 235.59 222.03 235.95 222.07 236.31 222.11 236.68 222.16 237.04 222.2 237.4M240.7 197.3 240.61 197.63 240.53 197.97 240.44 198.3 240.36 198.64 240.28 198.97 240.19 199.31 240.11 199.64 240.02 199.98 239.94 200.31 239.86 200.65 239.77 200.98 239.69 201.32 239.61 201.65 239.52 201.99 239.44 202.32 239.36 202.66 239.28 202.99 239.19 203.33 239.11 203.67 239.03 204 238.95 204.34 238.87 204.67 238.79 205.01 238.7 205.34 238.62 205.68 238.54 206.01 238.46 206.35 238.38 206.69 238.3 207.02 238.22 207.36 238.14 207.69 238.06 208.03 237.98 208.36 237.9 208.7 237.82 209.04 237.74 209.37 237.67 209.71 237.59 210.04 237.51 210.38 237.43 210.72 237.35 211.05 237.27 211.39 237.2 211.73 237.12 212.06 237.04 212.4 236.96 212.74 236.89 213.07 236.81 213.41 236.73 213.74 236.66 214.08 236.58 214.42 236.5 214.75 236.43 215.09 236.35 215.43 236.28 215.76 236.2 216.1 236.13 216.44 236.05 216.78 235.98 217.11 235.9 217.45 235.83 217.79 235.75 218.12 235.68 218.46 235.6 218.8 235.53 219.13 235.46 219.47 235.38 219.81 235.31 220.15 235.24 220.48 235.16 220.82 235.09 221.16 235.02 221.5 234.94 221.83 234.87 222.17 234.8 222.51 234.73 222.85 234.66 223.18 234.58 223.52 234.51 223.86 234.44 224.2 234.37 224.53 234.3 224.87 234.23 225.21 234.16 225.55 234.09 225.89 234.02 226.22 233.95 226.56 233.88 226.9 233.81 227.24 233.74 227.58 233.67 227.91 233.6 228.25 233.53 228.59 233.46 228.93 233.39 229.27 233.33 229.61 233.26 229.94 233.19 230.28 233.12 230.62 233.05 230.96 232.99 231.3 232.92 231.64 232.85 231.98 232.78 232.31 232.72 232.65 232.65 232.99 232.58 233.33 232.52 233.67 232.45 234.01 232.39 234.35 232.32 234.69 232.25 235.03 232.19 235.36 232.12 235.7 232.06 236.04 231.99 236.38 231.93 236.72 231.86 237.06 231.8 237.4M240.7 218.2 240.72 218.36 240.75 218.52 240.77 218.68 240.79 218.84 240.81 219.01 240.84 219.17 240.86 219.33 240.88 219.49 240.9 219.65 240.92 219.81 240.95 219.97 240.97 220.13 240.99 220.29 241.01 220.45 241.04 220.62 241.06 220.78 241.08 220.94 241.1 221.1 241.12 221.26 241.14 221.42 241.17 221.58 241.19 221.74 241.21 221.91 241.23 222.07 241.25 222.23 241.27 222.39 241.3 222.55 241.32 222.71 241.34 222.87 241.36 223.03 241.38 223.19 241.4 223.36 241.42 223.52 241.45 223.68 241.47 223.84 241.49 224 241.51 224.16 241.53 224.32 241.55 224.48 241.57 224.65 241.59 224.81 241.61 224.97 241.64 225.13 241.66 225.29 241.68 225.45 241.7 225.61 241.72 225.77 241.74 225.94 241.76 226.1 241.78 226.26 241.8 226.42 241.82 226.58 241.84 226.74 241.86 226.9 241.88 227.06 241.9 227.23 241.92 227.39 241.94 227.55 241.96 227.71 241.98 227.87 242 228.03 242.02 228.19 242.04 228.36 242.06 228.52 242.08 228.68 242.1 228.84 242.12 229 242.14 229.16 242.16 229.32 242.18 229.49 242.2 229.65 242.22 229.81 242.24 229.97 242.26 230.13 242.28 230.29 242.3 230.45 242.32 230.62 242.34 230.78 242.36 230.94 242.38 231.1 242.4 231.26 242.42 231.42 242.44 231.58 242.46 231.75 242.47 231.91 242.49 232.07 242.51 232.23 242.53 232.39 242.55 232.55 242.57 232.71 242.59 232.88 242.61 233.04 242.63 233.2 242.64 233.36 242.66 233.52 242.68 233.68 242.7 233.84 242.72 234.01 242.74 234.17 242.76 234.33 242.77 234.49 242.79 234.65 242.81 234.81 242.83 234.98 242.85 235.14 242.87 235.3 242.88 235.46 242.9 235.62 242.92 235.78 242.94 235.95 242.96 236.11 242.98 236.27 242.99 236.43 243.01 236.59 243.03 236.75 243.05 236.92 243.06 237.08 243.08 237.24 243.1 237.4" fill="none" stroke="#7d7d7d" stroke-width="1.05" /><path d="M43.24 233.46 44.53 233.04 45.82 232.6 47.11 232.16 48.41 231.72 49.7 231.27 50.99 230.81 52.29 230.35 53.58 229.89 54.88 229.41 56.18 228.94 57.47 228.45 58.77 227.96 60.07 227.47 61.36 226.97 62.66 226.46 63.96 225.95 65.25 225.43 66.55 224.91 67.84 224.37 69.13 223.84 70.43 223.3 71.72 222.75 73.01 222.19 74.29 221.63 75.58 221.06 76.87 220.49 78.15 219.91 79.43 219.32 80.71 218.73 81.99 218.12 83.26 217.52 84.53 216.9 85.8 216.28 87.07 215.66 88.34 215.02 89.6 214.38 90.86 213.73 92.11 213.07 93.36 212.41 94.61 211.74 95.86 211.07 97.1 210.38 98.34 209.69 99.57 208.99 100.8 208.28 102.03 207.57 103.25 206.85 104.47 206.12 105.69 205.38 106.9 204.63 108.1 203.88 109.32 203.14 110.53 202.41 111.75 201.66 112.96 200.91 114.16 200.15 115.36 199.38 116.55 198.6 117.74 197.81 118.93 197.02 120.11 196.22 121.28 195.4 122.45 194.58 123.62 193.75 124.78 192.91 125.93 192.07 127.08 191.21 128.22 190.34 129.35 189.47 130.47 188.57 131.58 187.66 132.69 186.75 133.79 185.82 134.88 184.89 135.97 183.94 137.04 182.99 138.11 182.02 139.18 181.04 140.23 180.06 141.28 179.06 142.32 178.06 143.35 177.04 144.37 176.02 145.39 174.98 146.39 173.94 147.39 172.88 148.38 171.81 149.36 170.74 150.32 169.65 151.23 168.51 152.13 167.37 153.02 166.22 153.9 165.06 154.77 163.89 155.62 162.71 156.47 161.52 157.3 160.32 158.12 159.11 158.93 157.89 159.73 156.66 160.51 155.43 161.28 154.18 162.04 152.93 162.78 151.66 163.51 150.39 164.22 149.12 164.92 147.83 165.61 146.55 166.29 145.25 166.95 143.95 167.58 142.64 168.19 141.32 168.79 139.99 169.37 138.67 169.95 137.33 170.51 136 171.06 134.66 171.6 133.32 172.13 131.98 172.65 130.63 173.16 129.28 173.66 127.93 174.15 126.57 174.63 125.21 175.1 123.85 175.54 122.48 175.88 121.08 176.22 119.68 176.54 118.28 176.85 116.87 177.16 115.47 177.45 114.06 177.74 112.66 178.02 111.25 178.29 109.84 178.54 108.43 178.79 107.02 179.04 105.61 179.27 104.2 179.49 102.79 179.72 101.38 179.98 99.98 180.23 98.58 180.48 97.17 180.72 95.77 180.95 94.37 181.17 92.96 181.39 91.56 181.55 90.14 181.7 88.73 181.83 87.31 181.96 85.89 182.08 84.48 182.2 83.06 182.31 81.65 182.41 80.23 182.51 78.82 182.6 77.4 182.69 75.99 182.77 74.57 182.84 73.16 182.91 71.75 182.99 70.34 183.1 68.93 183.21 67.53 183.32 66.12 183.41 64.72 183.51 63.32 183.6 61.91 183.68 60.51 183.77 59.11 183.84 57.71 183.92 56.31 183.99 54.91 184.05 53.51 184.11 52.12 184.17 50.72 184.2 49.32 184.21 47.93 184.22 46.53 184.22 45.14 184.23 43.75 184.23 42.35 184.23 40.96 184.22 39.58 184.21 38.19 184.2 36.8 184.19 35.42 184.23 34.04 184.28 32.67 184.32 31.29 184.37 29.92 184.41 28.55 184.45 27.18 184.49 25.81 184.52 24.45 184.56 23.09 184.59 21.73 184.63 20.37" fill="none" stroke="#ff0000" stroke-width="2" stroke-linejoin="round" stroke-linecap="butt"/><path d="M43.24 233.46 44.53 233.04 45.82 232.6 47.11 232.16 48.41 231.72 49.7 231.27 50.99 230.81 52.29 230.35 53.58 229.89 54.88 229.41 56.18 228.94 57.47 228.45 58.77 227.96 60.07 227.47 61.36 226.97 62.66 226.46 63.96 225.95 65.25 225.43 66.55 224.91 67.84 224.37 69.13 223.84 70.43 223.3 71.72 222.75 73.01 222.19 74.29 221.63 75.58 221.06 76.87 220.49 78.15 219.91 79.43 219.32 80.71 218.73 81.99 218.12 83.26 217.52 84.53 216.9 85.8 216.28 87.07 215.66 88.34 215.02 89.6 214.38 90.86 213.73 92.11 213.07 93.36 212.41 94.61 211.74 95.86 211.07 97.1 210.38 98.34 209.69 99.57 208.99 100.8 208.28 102.03 207.57 103.25 206.85 104.47 206.12 105.69 205.38 106.9 204.63 108.1 203.88 109.32 203.14 110.53 202.41 111.75 201.66 112.96 200.91 114.16 200.15 115.36 199.38 116.55 198.6 117.74 197.81 118.93 197.02 120.11 196.22 121.28 195.4 122.45 194.58 123.62 193.75 124.78 192.91 125.93 192.07 127.08 191.21 128.22 190.34 129.35 189.47 130.47 188.57 131.58 187.66 132.69 186.75 133.79 185.82 134.88 184.89 135.97 183.94 137.04 182.99 138.11 182.02 139.18 181.04 140.23 180.06 141.28 179.06 142.32 178.06 143.35 177.04 144.37 176.02 145.39 174.98 146.39 173.94 147.39 172.88 148.38 171.81 149.36 170.74 150.32 169.65 151.23 168.51 152.13 167.37 153.02 166.22 153.9 165.06 154.77 163.89 155.62 162.71 156.47 161.52 157.3 160.32 158.12 159.11 158.93 157.89 159.73 156.66 160.51 155.43 161.28 154.18 162.04 152.93 162.78 151.66 163.51 150.39 164.22 149.12 164.92 147.83 165.61 146.55 166.29 145.25 166.95 143.95 167.58 142.64 168.19 141.32 168.79 139.99 169.37 138.67 169.95 137.33 170.51 136 171.06 134.66 171.6 133.32 172.13 131.98 172.65 130.63 173.16 129.28 173.66 127.93 174.15 126.57 174.63 125.21 175.1 123.85 175.54 122.48 175.88 121.08 176.22 119.68 176.54 118.28 176.85 116.87 177.16 115.47 177.45 114.06 177.74 112.66 178.02 111.25 178.29 109.84 178.54 108.43 178.79 107.02 179.04 105.61 179.27 104.2 179.49 102.79 179.72 101.38 179.98 99.98 180.23 98.58 180.48 97.17 180.72 95.77 180.95 94.37 181.17 92.96 181.39 91.56 181.55 90.14 181.7 88.73 181.83 87.31 181.96 85.89 182.08 84.48 182.2 83.06 182.31 81.65 182.41 80.23 182.51 78.82 182.6 77.4 182.69 75.99 182.77 74.57 182.84 73.16 182.91 71.75 182.99 70.34 183.1 68.93 183.21 67.53 183.32 66.12 183.41 64.72 183.51 63.32 183.6 61.91 183.68 60.51 183.77 59.11 183.84 57.71 183.92 56.31 183.99 54.91 184.05 53.51 184.11 52.12 184.17 50.72 184.2 49.32 184.21 47.93 184.22 46.53 184.22 45.14 184.23 43.75 184.23 42.35 184.23 40.96 184.22 39.58 184.21 38.19 184.2 36.8 184.19 35.42 184.23 34.04 184.28 32.67 184.32 31.29 184.37 29.92 184.41 28.55 184.45 27.18 184.49 25.81 184.52 24.45 184.56 23.09 184.59 21.73 184.4 21 184.5 16.3" fill="none" stroke="#00e600" stroke-width="2" stroke-linejoin="round" stroke-linecap="butt"/><path d="M43.24 233.46 44.53 233.04 45.82 232.6 47.11 232.16 48.41 231.72 49.7 231.27 50.99 230.81 52.29 230.35 53.58 229.89 54.88 229.41 56.18 228.94 57.47 228.45 58.77 227.96 60.07 227.47 61.36 226.97 62.66 226.46 63.96 225.95 65.25 225.43 66.55 224.91 67.84 224.37 69.13 223.84 70.43 223.3 71.72 222.75 73.01 222.19 74.29 221.63 75.58 221.06 76.87 220.49 78.15 219.91 79.43 219.32 80.71 218.73 81.99 218.12 83.26 217.52 84.53 216.9 85.8 216.28 87.07 215.66 88.34 215.02 89.6 214.38 90.86 213.73 92.11 213.07 93.36 212.41 94.61 211.74 95.86 211.07 97.1 210.38 98.34 209.69 99.57 208.99 100.8 208.28 102.03 207.57 103.25 206.85 104.47 206.12 105.69 205.38 106.9 204.63 108.1 203.88 109.32 203.14 110.53 202.41 111.75 201.66 112.96 200.91 114.16 200.15 115.36 199.38 116.55 198.6 117.74 197.81 118.93 197.02 120.11 196.22 121.28 195.4 122.45 194.58 123.62 193.75 124.78 192.91 125.93 192.07 127.08 191.21 128.22 190.34 129.35 189.47 130.45 188.55 131.55 187.62 132.63 186.69 133.71 185.74 134.78 184.78 135.85 183.82 136.9 182.84 137.95 181.86 138.99 180.87 140.02 179.86 141.04 178.85 142.06 177.82 143.06 176.79 144.06 175.75 145.05 174.69 146.03 173.63 147 172.56 147.96 171.48 148.91 170.39 149.84 169.28 150.71 168.12 151.58 166.96 152.42 165.79 153.26 164.61 154.09 163.42 154.9 162.22 155.7 161.01 156.49 159.79 157.27 158.57 158.03 157.33 158.78 156.09 159.52 154.84 160.24 153.58 160.98 152.33 161.71 151.08 162.42 149.81 163.12 148.54 163.8 147.26 164.47 145.98 165.13 144.69 165.78 143.4 166.4 142.09 167 140.78 167.6 139.47 168.18 138.15 168.75 136.83 169.31 135.5 169.85 134.17 170.39 132.84 170.92 131.51 171.43 130.17 171.94 128.83 172.43 127.49 172.92 126.14 173.4 124.79 173.86 123.44 174.3 122.08 174.64 120.68 174.98 119.29 175.3 117.9 175.61 116.5 175.91 115.1 176.2 113.71 176.49 112.31 176.76 110.91 177.03 109.51 177.29 108.1 177.53 106.7 177.77 105.3 178.01 103.9 178.23 102.49 178.45 101.09 178.68 99.69 178.91 98.29 179.12 96.89 179.34 95.49 179.54 94.08 179.73 92.68 179.92 91.28 180.09 89.87 180.26 88.47 180.41 87.06 180.56 85.65 180.7 84.25 180.84 82.84 180.97 81.43 181.09 80.03 181.21 78.62 181.32 77.21 181.42 75.81 181.52 74.4 181.62 72.99 181.71 71.59 181.8 70.18 181.92 68.78 182.04 67.39 182.15 65.99 182.25 64.59 182.35 63.19 182.45 61.79 182.54 60.39 182.63 59 182.71 57.6 182.79 56.2 182.87 54.81 182.94 53.41 183.01 52.02 183.07 50.63 183.14 49.24 183.21 47.85 183.27 46.46 183.33 45.07 183.39 43.68 183.45 42.3 183.5 40.91 183.55 39.53 183.6 38.15 183.64 36.77 183.68 35.39 183.74 34.01 183.79 32.64 183.85 31.27 183.9 29.89 183.95 28.52 184 27.16 184.05 25.79 184.1 24.43 184.14 23.07" fill="none" stroke="#0000ff" stroke-width="2" stroke-linejoin="round" stroke-linecap="butt"/><path d="M43.01 232.79 44.29 232.36 45.58 231.92 46.86 231.48 48.15 231.03 49.44 230.57 50.73 230.11 52.02 229.65 53.31 229.18 54.6 228.7 55.89 228.22 57.19 227.73 58.48 227.23 59.77 226.74 61.06 226.23 62.35 225.72 63.64 225.2 64.93 224.68 66.22 224.15 67.51 223.61 68.79 223.07 70.08 222.52 71.36 221.97 72.65 221.41 73.93 220.84 75.21 220.27 76.48 219.69 77.76 219.11 79.03 218.51 80.31 217.91 81.57 217.31 82.84 216.7 84.11 216.08 85.37 215.45 86.63 214.82 87.88 214.18 89.14 213.53 90.39 212.88 91.63 212.22 92.88 211.55 94.12 210.88 95.35 210.2 96.58 209.51 97.81 208.81 99.04 208.11 100.26 207.4 101.47 206.68 102.69 205.95 103.89 205.22 105.1 204.48 106.29 203.73 107.49 202.97 108.68 202.22 109.88 201.47 111.07 200.7 112.26 199.93 113.44 199.16 114.62 198.37 115.79 197.58 116.95 196.77 118.11 195.96 119.27 195.14 120.42 194.32 121.56 193.48 122.7 192.63 123.83 191.78 124.95 190.92 126.07 190.04 127.18 189.16 128.29 188.27 129.36 187.35 130.43 186.42 131.5 185.48 132.55 184.53 133.6 183.57 134.64 182.6 135.67 181.63 136.69 180.64 137.71 179.64 138.71 178.64 139.71 177.62 140.7 176.6 141.68 175.56 142.65 174.52 143.61 173.46 144.56 172.4 145.5 171.33 146.43 170.25 147.35 169.16 148.26 168.06 149.11 166.91 149.95 165.76 150.79 164.6 151.61 163.43 152.41 162.25 153.21 161.07 153.99 159.87 154.76 158.67 155.52 157.46 156.27 156.24 157 155.01 157.72 153.78 158.42 152.54 159.15 151.31 159.86 150.07 160.57 148.82 161.25 147.57 161.93 146.31 162.59 145.05 163.24 143.78 163.88 142.5 164.51 141.22 165.13 139.94 165.74 138.65 166.34 137.36 166.92 136.06 167.5 134.76 168.07 133.45 168.62 132.15 169.17 130.83 169.7 129.52 170.23 128.2 170.74 126.88 171.25 125.55 171.74 124.22 172.23 122.89 172.69 121.55 173.02 120.16 173.34 118.78 173.65 117.39 173.95 116 174.25 114.62 174.53 113.23 174.8 111.84 175.07 110.45 175.33 109.05 175.57 107.66 175.81 106.27 176.04 104.87 176.27 103.48 176.48 102.08 176.7 100.69 176.97 99.31 177.23 97.92 177.49 96.54 177.74 95.15 177.98 93.77 178.21 92.38 178.44 90.99 178.64 89.6 178.83 88.21 179.01 86.81 179.18 85.42 179.35 84.02 179.51 82.62 179.67 81.23 179.82 79.83 179.96 78.43 180.1 77.03 180.23 75.64 180.36 74.24 180.48 72.84 180.6 71.44 180.71 70.05 180.85 68.65 180.99 67.26 181.12 65.87 181.24 64.47 181.37 63.08 181.48 61.69 181.59 60.29 181.7 58.9 181.81 57.51 181.91 56.12 182 54.73 182.1 53.34 182.18 51.95 182.27 50.56 182.37 49.17 182.47 47.79 182.57 46.4 182.67 45.02 182.77 43.64 182.86 42.26 182.95 40.87 183.03 39.49 183.12 38.12 183.2 36.74 183.28 35.36 183.34 33.99 183.4 32.61 183.45 31.24 183.5 29.87 183.55 28.5 183.6 27.13 183.65 25.77 183.7 24.41 183.74 23.04" fill="none" stroke="#00ffff" stroke-width="2" stroke-linejoin="round" stroke-linecap="butt"/><path d="M42.73 232.01 44.01 231.57 45.29 231.12 46.57 230.67 47.85 230.21 49.13 229.74 50.42 229.27 51.7 228.8 52.98 228.32 54.26 227.83 55.55 227.34 56.83 226.84 58.11 226.34 59.4 225.83 60.68 225.31 61.96 224.79 63.24 224.26 64.52 223.73 65.8 223.19 67.08 222.64 68.36 222.09 69.63 221.53 70.9 220.96 72.18 220.39 73.45 219.82 74.71 219.23 75.98 218.64 77.24 218.04 78.51 217.44 79.77 216.83 81.02 216.21 82.28 215.59 83.53 214.96 84.78 214.32 86.02 213.68 87.26 213.03 88.5 212.37 89.74 211.71 90.97 211.04 92.2 210.36 93.42 209.67 94.64 208.98 95.86 208.28 97.07 207.57 98.28 206.86 99.48 206.14 100.68 205.41 101.87 204.67 103.06 203.93 104.24 203.18 105.42 202.42 106.6 201.65 107.77 200.89 108.95 200.12 110.12 199.35 111.28 198.57 112.44 197.78 113.6 196.98 114.74 196.18 115.88 195.37 117.02 194.55 118.15 193.72 119.27 192.88 120.39 192.04 121.5 191.18 122.61 190.32 123.7 189.45 124.79 188.57 125.88 187.68 126.95 186.78 128.01 185.86 129.05 184.92 130.09 183.98 131.12 183.03 132.14 182.07 133.15 181.1 134.15 180.13 135.15 179.14 136.13 178.14 137.11 177.14 138.08 176.12 139.04 175.1 139.99 174.07 140.93 173.03 141.86 171.98 142.78 170.92 143.69 169.85 144.59 168.77 145.48 167.69 146.36 166.59 147.2 165.47 148.04 164.34 148.86 163.21 149.67 162.06 150.47 160.91 151.26 159.75 152.04 158.58 152.8 157.4 153.55 156.21 154.29 155.02 155.02 153.82 155.73 152.61 156.43 151.39 157.13 150.17 157.83 148.95 158.5 147.72 159.17 146.48 159.82 145.24 160.47 143.99 161.1 142.74 161.71 141.48 162.32 140.21 162.92 138.94 163.51 137.67 164.09 136.39 164.66 135.11 165.21 133.82 165.76 132.53 166.3 131.23 166.82 129.93 167.34 128.63 167.84 127.32 168.34 126.01 168.83 124.7 169.31 123.38 169.78 122.06 170.22 120.74 170.59 119.38 170.94 118.03 171.28 116.67 171.62 115.31 171.95 113.95 172.27 112.58 172.57 111.22 172.87 109.85 173.17 108.48 173.45 107.11 173.72 105.74 173.99 104.37 174.25 102.99 174.5 101.62 174.75 100.24 175.03 98.87 175.31 97.5 175.57 96.13 175.83 94.76 176.09 93.39 176.33 92.01 176.57 90.64 176.81 89.26 177.04 87.88 177.27 86.5 177.49 85.12 177.7 83.74 177.91 82.36 178.11 80.98 178.31 79.6 178.5 78.21 178.68 76.83 178.86 75.44 179.04 74.06 179.2 72.67 179.37 71.28 179.53 69.9 179.69 68.51 179.84 67.12 179.99 65.73 180.14 64.35 180.28 62.96 180.42 61.57 180.55 60.19 180.68 58.8 180.8 57.41 180.92 56.03 181.04 54.64 181.15 53.25 181.26 51.87 181.37 50.48 181.47 49.1 181.58 47.72 181.68 46.33 181.77 44.95 181.87 43.57 181.96 42.19 182.05 40.81 182.14 39.43 182.22 38.06 182.3 36.68 182.38 35.31 182.45 33.93 182.51 32.56 182.58 31.19 182.64 29.82 182.7 28.45 182.76 27.09 182.81 25.72 182.87 24.36 182.92 23 182.98 21.64" fill="none" stroke="#ff00ff" stroke-width="2" stroke-linejoin="round" stroke-linecap="butt"/><path d="M42.36 230.96 43.63 230.51 44.9 230.05 46.18 229.59 47.45 229.13 48.73 228.65 50 228.18 51.28 227.7 52.55 227.21 53.83 226.71 55.11 226.21 56.38 225.71 57.66 225.2 58.93 224.68 60.2 224.16 61.48 223.63 62.75 223.09 64.02 222.55 65.29 222 66.56 221.45 67.82 220.89 69.09 220.33 70.35 219.75 71.61 219.18 72.87 218.59 74.13 218 75.39 217.4 76.64 216.8 77.89 216.19 79.14 215.57 80.38 214.95 81.63 214.32 82.86 213.68 84.1 213.04 85.33 212.38 86.56 211.73 87.79 211.06 89.01 210.39 90.23 209.71 91.44 209.03 92.65 208.34 93.86 207.64 95.06 206.93 96.25 206.22 97.45 205.5 98.63 204.77 99.82 204.03 100.99 203.29 102.17 202.54 103.33 201.78 104.49 201.02 105.65 200.24 106.8 199.46 107.94 198.67 109.08 197.88 110.21 197.08 111.34 196.26 112.46 195.44 113.57 194.62 114.68 193.78 115.78 192.94 116.87 192.09 117.96 191.23 119.04 190.36 120.11 189.49 121.17 188.61 122.23 187.72 123.28 186.82 124.32 185.91 125.35 184.99 126.38 184.07 127.4 183.14 128.4 182.19 129.4 181.24 130.4 180.29 131.38 179.32 132.35 178.34 133.32 177.36 134.27 176.37 135.22 175.37 136.16 174.36 137.08 173.34 138 172.31 138.91 171.27 139.81 170.23 140.69 169.18 141.57 168.12 142.44 167.05 143.29 165.97 144.14 164.88 144.98 163.79 145.8 162.69 146.61 161.58 147.41 160.46 148.2 159.33 148.98 158.2 149.75 157.06 150.5 155.91 151.24 154.75 151.97 153.58 152.69 152.41 153.4 151.23 154.09 150.04 154.77 148.85 155.44 147.64 156.09 146.43 156.73 145.21 157.36 143.99 157.98 142.76 158.59 141.52 159.18 140.28 159.77 139.03 160.34 137.78 160.9 136.52 161.45 135.25 161.99 133.98 162.52 132.71 163.04 131.43 163.55 130.15 164.05 128.87 164.54 127.58 165.02 126.29 165.49 124.99 165.96 123.69 166.41 122.39 166.85 121.08 167.29 119.77 167.71 118.46 168.13 117.15 168.54 115.83 168.94 114.51 169.33 113.18 169.71 111.85 170.09 110.52 170.46 109.19 170.82 107.86 171.17 106.52 171.51 105.18 171.84 103.84 172.17 102.49 172.49 101.14 172.81 99.8 173.11 98.44 173.41 97.09 173.7 95.74 173.99 94.38 174.26 93.02 174.53 91.66 174.8 90.3 175.06 88.93 175.31 87.57 175.55 86.2 175.79 84.83 176.02 83.46 176.25 82.09 176.47 80.72 176.69 79.34 176.9 77.97 177.1 76.6 177.3 75.22 177.49 73.84 177.68 72.46 177.86 71.09 178.04 69.71 178.22 68.33 178.38 66.95 178.55 65.57 178.71 64.19 178.86 62.8 179.01 61.42 179.16 60.04 179.3 58.66 179.44 57.28 179.57 55.9 179.7 54.51 179.83 53.13 179.95 51.75 180.07 50.37 180.18 48.99 180.3 47.61 180.41 46.23 180.51 44.86 180.62 43.48 180.72 42.1 180.81 40.72 180.91 39.35 181 37.98 181.09 36.6 181.18 35.23 181.27 33.86 181.35 32.49 181.43 31.12 181.51 29.76 181.59 28.39 181.66 27.03 181.74 25.67 181.81 24.31 181.88 22.95 181.96 21.59 182.02 20.24" fill="none" stroke="#e8c840" stroke-width="2" stroke-linejoin="round" stroke-linecap="butt"/><path d="M188.3 81.5 190.2 89 191.4 97" fill="none" stroke="#ff0000" stroke-width="2" stroke-linejoin="round" stroke-linecap="butt"/><path d="M237.3 152.9 243 154.1 249 155.1" fill="none" stroke="#ff0000" stroke-width="2" stroke-linejoin="round" stroke-linecap="butt"/><circle cx="249.6" cy="155.1" r="1.2" fill="#00e600"/><rect x="188.2" y="112.4" width="1.8" height="1.8" fill="#0000ff"/><path d="M197.2 143.6 196.4 147 195.6 149.6" fill="none" stroke="#00ffff" stroke-width="1.8" stroke-linejoin="round" stroke-linecap="butt"/><path d="M168.6 155.6L151.22 139.05" stroke="#000" stroke-width="1.1" fill="none"/><path d="M147.6 135.6L154.46 138.54L150.88 142.31Z" fill="#000"/><path d="M375.51 119.18 376.25 119.21 377 119.22 377.75 119.2 378.5 119.17 379.25 119.11 380.01 119.04 380.76 118.94 381.51 118.83 382.26 118.7 383.01 118.55 383.75 118.38 384.5 118.19 385.24 117.99 385.98 117.77 386.71 117.53 387.44 117.28 388.16 117 388.88 116.72 389.59 116.41 390.29 116.09 390.99 115.76 391.68 115.4 392.37 115.04 393.04 114.66 393.7 114.26 394.36 113.85 395.01 113.43 395.64 112.99 396.27 112.54 396.88 112.07 397.48 111.6 398.07 111.11 398.65 110.6 399.21 110.09 399.76 109.56 400.3 109.02 400.82 108.47 401.32 107.91 401.81 107.34 402.29 106.75 402.74 106.16 403.18 105.56 403.61 104.94 404.01 104.32 404.4 103.69 404.78 103.05 405.14 102.4 405.48 101.74 405.81 101.07 406.13 100.4 406.43 99.72 406.72 99.03 407 98.34 407.27 97.64 407.52 96.93 407.77 96.22 408 95.5 408.22 94.77 408.44 94.05 408.64 93.31 408.84 92.57 409.02 91.83 409.2 91.09 409.38 90.34 409.54 89.59 409.7 88.84 409.86 88.08 410 87.32 410.15 86.56 410.29 85.8 410.42 85.04 410.55 84.28 410.68 83.51 410.81 82.75 410.93 81.98 411.05 81.22 411.17 80.46 411.3 79.7 411.42 78.94 411.54 78.18 411.66 77.42 411.78 76.67 411.9 75.92 412.02 75.17 412.15 74.42 412.27 73.67 412.39 72.93 412.5 72.18 412.62 71.44 412.73 70.7 412.84 69.95 412.95 69.21 413.06 68.47 413.16 67.74 413.25 67 413.34 66.26 413.43 65.52 413.51 64.78 413.59 64.04 413.66 63.3 413.72 62.57 413.77 61.83 413.82 61.09 413.87 60.35 413.9 59.6 413.93 58.86 413.96 58.12 413.98 57.37 414 56.63 414.02 55.88 414.03 55.13 414.04 54.38 414.05 53.63 414.06 52.87 414.07 52.12 414.08 51.36 414.09 50.6 414.11 49.83 414.12 49.07 414.14 48.3 414.16 47.53 414.18 46.76 414.21 45.98 414.25 45.2 414.29 44.42 414.33 43.63 414.38 42.84 414.44 42.05 414.51 41.25 414.59 40.45 414.67 39.65 414.77 38.85 414.88 38.05 415 37.26 415.14 36.47 415.29 35.69 415.46 34.92 415.65 34.16 415.85 33.41 416.08 32.68 416.32 31.96 416.59 31.25 416.88 30.56 417.2 29.89 417.54 29.25 417.91 28.62 418.3 28.02 418.72 27.45 419.18 26.9 419.66 26.38 420.17 25.89 420.72 25.44 421.31 25.01 421.92 24.62 422.57 24.27 423.24 23.94 423.94 23.64 424.66 23.36 425.4 23.11 426.15 22.88 426.9 22.66 427.66 22.45 428.42 22.26 429.19 22.08 429.95 21.91 430.71 21.75 431.47 21.6 432.23 21.45 432.99 21.32 433.75 21.2 434.51 21.08 435.26 20.97 436.02 20.88 436.78 20.79 437.54 20.7 438.29 20.63 439.05 20.56 439.81 20.5 440.56 20.44 441.32 20.39 442.08 20.35 442.83 20.32 443.59 20.29 444.34 20.26 445.1 20.24 445.85 20.23 446.61 20.22 447.36 20.21 448.12 20.21 448.87 20.21 449.63 20.22 450.38 20.23 451.14 20.24 451.89 20.26 452.65 20.28 453.4 20.3 454.16 20.33 454.91 20.35 455.66 20.38 456.42 20.41 457.17 20.44 457.93 20.47 458.68 20.51 459.44 20.54 460.2 20.57 460.95 20.61 461.71 20.64 462.46 20.67 463.22 20.7 463.98 20.74 464.73 20.77 465.49 20.8 466.25 20.82 467 20.85 467.76 20.87 468.52 20.89 469.28 20.91 470.04 20.93 470.8 20.94 471.56 20.95 472.32 20.95 473.08 20.95 473.84 20.95 474.6 20.94 475.36 20.93 476.12 20.91 476.89 20.89 477.65 20.87 478.41 20.84 479.18 20.81 479.94 20.78 480.71 20.75 481.47 20.71 482.23 20.68 483 20.64 483.76 20.6 484.53 20.57 485.29 20.53 486.06 20.49 486.82 20.46 487.58 20.42 488.35 20.39 489.11 20.36 489.87 20.33 490.64 20.3 491.4 20.28 492.16 20.26 492.92 20.25 493.69 20.24 494.45 20.23 495.21 20.23 495.97 20.24 496.73 20.25 497.49 20.26 498.24 20.29 499 20.32 499.76 20.36 500.51 20.4 501.27 20.45 502.02 20.52 502.77 20.59 503.53 20.67 504.28 20.76 505.03 20.86 505.78 20.97 506.52 21.09 507.27 21.22 508.02 21.36 508.76 21.51 509.5 21.68 510.22 21.88 510.92 22.12 511.58 22.4 512.19 22.75 512.75 23.16 513.24 23.65 513.68 24.19 514.06 24.79 514.37 25.45 514.63 26.16 514.83 26.91 514.99 27.69 515.11 28.49 515.21 29.31 515.28 30.13 515.34 30.95 515.39 31.76 515.44 32.56 515.48 33.35 515.51 34.13 515.53 34.9 515.55 35.67 515.57 36.43 515.58 37.18 515.59 37.93 515.59 38.68 515.59 39.42 515.59 40.16 515.58 40.89 515.57 41.62 515.57 42.35 515.56 43.09 515.55 43.82 515.54 44.55 515.54 45.28 515.53 46.01 515.53 46.75 515.53 47.49 515.53 48.23 515.53 48.98 515.54 49.73 515.55 50.49 515.57 51.25 515.59 52.02 515.62 52.8 515.66 53.59 515.7 54.38 515.75 55.18 515.8 56M375.5 119.18 376.22 119.25 376.94 119.31 377.66 119.34 378.4 119.36 379.13 119.36 379.87 119.35 380.62 119.31 381.37 119.26 382.12 119.19 382.87 119.11 383.62 119 384.37 118.88 385.12 118.75 385.87 118.59 386.62 118.43 387.37 118.24 388.11 118.04 388.85 117.82 389.58 117.59 390.31 117.34 391.04 117.07 391.76 116.79 392.47 116.5 393.18 116.19 393.87 115.86 394.56 115.52 395.24 115.17 395.91 114.8 396.57 114.41 397.22 114.01 397.85 113.6 398.48 113.17 399.09 112.73 399.68 112.27 400.26 111.8 400.83 111.32 401.38 110.82 401.92 110.31 402.44 109.79 402.94 109.26 403.42 108.71 403.89 108.14 404.33 107.57 404.76 106.98 405.16 106.38 405.55 105.77 405.92 105.15 406.27 104.52 406.61 103.87 406.93 103.22 407.24 102.56 407.53 101.89 407.8 101.21 408.06 100.52 408.31 99.82 408.55 99.12 408.77 98.41 408.98 97.69 409.18 96.97 409.37 96.24 409.56 95.5 409.73 94.77 409.89 94.02 410.04 93.27 410.19 92.52 410.33 91.77 410.47 91.01 410.59 90.25 410.72 89.49 410.83 88.73 410.95 87.97 411.06 87.2 411.16 86.44 411.27 85.67 411.37 84.91 411.47 84.15 411.57 83.39 411.67 82.63 411.77 81.87 411.87 81.12 411.98 80.37 412.08 79.62 412.19 78.87 412.29 78.13 412.4 77.39 412.51 76.66 412.62 75.92 412.72 75.19 412.83 74.46 412.94 73.73 413.04 73 413.14 72.27 413.25 71.55 413.35 70.82 413.44 70.1 413.54 69.37 413.63 68.65 413.72 67.92 413.81 67.2 413.89 66.47 413.96 65.74 414.04 65.02 414.11 64.29 414.17 63.56 414.23 62.83 414.28 62.09 414.33 61.36 414.37 60.62 414.41 59.88 414.45 59.14 414.48 58.39 414.5 57.65 414.53 56.9 414.56 56.15 414.58 55.4 414.6 54.65 414.63 53.89 414.65 53.14 414.68 52.38 414.71 51.62 414.75 50.86 414.78 50.1 414.82 49.34 414.87 48.57 414.92 47.81 414.98 47.04 415.04 46.27 415.11 45.51 415.19 44.74 415.28 43.97 415.38 43.2 415.49 42.44 415.61 41.67 415.75 40.92 415.89 40.17 416.06 39.42 416.23 38.68 416.43 37.95 416.64 37.23 416.87 36.52 417.11 35.82 417.38 35.13 417.67 34.46 417.98 33.8 418.31 33.15 418.66 32.52 419.04 31.9 419.44 31.31 419.87 30.73 420.33 30.17 420.81 29.63 421.33 29.12 421.87 28.63 422.44 28.15 423.04 27.71 423.66 27.28 424.3 26.88 424.97 26.49 425.65 26.13 426.34 25.79 427.04 25.46 427.74 25.15 428.45 24.87 429.17 24.59 429.88 24.34 430.6 24.1 431.32 23.87 432.04 23.66 432.76 23.47 433.49 23.29 434.21 23.12 434.94 22.96 435.67 22.82 436.41 22.69 437.14 22.57 437.88 22.46 438.62 22.37 439.35 22.28 440.09 22.2 440.84 22.13 441.58 22.07 442.32 22.02 443.07 21.97 443.81 21.94 444.56 21.91 445.31 21.88 446.06 21.86 446.81 21.85 447.56 21.84 448.31 21.83 449.06 21.83 449.81 21.83 450.56 21.84 451.31 21.84 452.07 21.85 452.82 21.86 453.57 21.87 454.33 21.88 455.08 21.89 455.83 21.9 456.59 21.91 457.34 21.91 458.09 21.92 458.84 21.92 459.6 21.93 460.35 21.93 461.1 21.93 461.85 21.93 462.6 21.93 463.35 21.93 464.1 21.92 464.86 21.92 465.6 21.92 466.35 21.91 467.1 21.91 467.85 21.9 468.6 21.9 469.35 21.89 470.09 21.89 470.84 21.88 471.59 21.88 472.33 21.87 473.08 21.87 473.82 21.86 474.56 21.85 475.31 21.85 476.05 21.84 476.79 21.84 477.53 21.84 478.27 21.83 479.01 21.83 479.75 21.83 480.49 21.82 481.23 21.82 481.97 21.82 482.71 21.82 483.45 21.82 484.19 21.82 484.94 21.82 485.68 21.82 486.42 21.82 487.16 21.83 487.91 21.83 488.65 21.84 489.4 21.84 490.15 21.85 490.89 21.85 491.64 21.86 492.39 21.87 493.15 21.88 493.9 21.89 494.66 21.9 495.41 21.91 496.17 21.92 496.93 21.94 497.69 21.95 498.46 21.97 499.23 21.99 500 22 500.77 22.02 501.54 22.04 502.32 22.06 503.1 22.09 503.87 22.11 504.65 22.15 505.42 22.2 506.18 22.28 506.92 22.38 507.65 22.51 508.36 22.69 509.04 22.91 509.69 23.17 510.31 23.48 510.9 23.84 511.45 24.24 511.97 24.67 512.46 25.16 512.9 25.68 513.3 26.24 513.65 26.84 513.97 27.48 514.23 28.15 514.46 28.85 514.66 29.58 514.82 30.32 514.95 31.08 515.07 31.84 515.16 32.61 515.23 33.38 515.28 34.15 515.32 34.92 515.34 35.69 515.36 36.46 515.35 37.24 515.34 38.01 515.32 38.79 515.3 39.56 515.26 40.33 515.23 41.1 515.18 41.87 515.14 42.64 515.1 43.41 515.05 44.18 515.01 44.94 514.97 45.7 514.94 46.46 514.91 47.22 514.89 47.97 514.88 48.72 514.88 49.47 514.89 50.21 514.91 50.95 514.95 51.69 515 52.42 515.08 53.14 515.16 53.86 515.27 54.58 515.4 55.29 515.56 55.99M375.51 119.19 376.14 119.23 376.78 119.26 377.44 119.29 378.11 119.3 378.8 119.31 379.49 119.31 380.2 119.3 380.92 119.28 381.64 119.25 382.37 119.21 383.11 119.16 383.85 119.1 384.6 119.03 385.36 118.94 386.11 118.85 386.87 118.75 387.63 118.63 388.39 118.5 389.15 118.36 389.9 118.21 390.66 118.05 391.41 117.87 392.16 117.67 392.9 117.47 393.64 117.25 394.36 117.02 395.09 116.77 395.8 116.5 396.5 116.23 397.19 115.93 397.87 115.63 398.54 115.3 399.2 114.96 399.84 114.6 400.46 114.23 401.07 113.84 401.67 113.43 402.24 113.01 402.8 112.56 403.33 112.1 403.85 111.62 404.34 111.13 404.82 110.61 405.26 110.08 405.69 109.52 406.09 108.95 406.47 108.36 406.82 107.75 407.16 107.12 407.48 106.49 407.77 105.83 408.05 105.17 408.32 104.49 408.56 103.8 408.8 103.11 409.02 102.4 409.22 101.69 409.42 100.97 409.6 100.24 409.78 99.51 409.95 98.77 410.11 98.03 410.26 97.29 410.41 96.55 410.55 95.81 410.69 95.07 410.83 94.33 410.96 93.59 411.1 92.86 411.23 92.13 411.37 91.4 411.5 90.68 411.63 89.96 411.75 89.24 411.88 88.52 412 87.8 412.12 87.08 412.23 86.37 412.35 85.65 412.45 84.94 412.56 84.23 412.66 83.51 412.75 82.8 412.84 82.08 412.93 81.37 413.01 80.65 413.09 79.94 413.16 79.22 413.24 78.5 413.3 77.78 413.37 77.07 413.44 76.35 413.5 75.63 413.56 74.91 413.62 74.19 413.68 73.47 413.73 72.75 413.79 72.03 413.84 71.31 413.9 70.59 413.95 69.86 414 69.14 414.06 68.42 414.11 67.69 414.17 66.97 414.22 66.24 414.28 65.52 414.34 64.79 414.4 64.07 414.46 63.34 414.52 62.61 414.59 61.89 414.66 61.16 414.73 60.43 414.8 59.7 414.88 58.97 414.96 58.24 415.05 57.51 415.13 56.78 415.23 56.04 415.32 55.31 415.43 54.58 415.53 53.85 415.64 53.11 415.76 52.38 415.88 51.64 416.01 50.91 416.14 50.17 416.29 49.44 416.43 48.7 416.59 47.97 416.76 47.24 416.93 46.52 417.11 45.8 417.3 45.08 417.5 44.37 417.72 43.67 417.94 42.97 418.18 42.27 418.42 41.59 418.68 40.91 418.96 40.24 419.24 39.59 419.54 38.94 419.85 38.3 420.18 37.67 420.53 37.06 420.89 36.46 421.26 35.87 421.66 35.29 422.07 34.73 422.49 34.18 422.94 33.65 423.4 33.13 423.88 32.63 424.39 32.15 424.91 31.69 425.45 31.24 426.01 30.81 426.6 30.41 427.21 30.02 427.84 29.65 428.49 29.31 429.16 28.98 429.85 28.68 430.55 28.39 431.27 28.12 432 27.87 432.74 27.63 433.49 27.41 434.25 27.2 435 27.01 435.76 26.82 436.52 26.65 437.28 26.5 438.03 26.35 438.78 26.21 439.53 26.08 440.27 25.95 441 25.84 441.74 25.74 442.47 25.64 443.19 25.55 443.91 25.46 444.63 25.39 445.35 25.32 446.07 25.25 446.78 25.19 447.5 25.14 448.21 25.09 448.92 25.04 449.63 25 450.33 24.96 451.04 24.93 451.75 24.89 452.46 24.86 453.17 24.84 453.88 24.81 454.59 24.79 455.3 24.76 456.02 24.74 456.73 24.71 457.45 24.69 458.17 24.67 458.89 24.65 459.61 24.62 460.33 24.6 461.05 24.58 461.78 24.56 462.51 24.54 463.23 24.51 463.96 24.49 464.69 24.47 465.42 24.45 466.15 24.43 466.88 24.41 467.62 24.39 468.35 24.37 469.08 24.34 469.81 24.32 470.55 24.3 471.28 24.28 472.02 24.26 472.75 24.24 473.48 24.22 474.22 24.2 474.95 24.17 475.69 24.15 476.42 24.13 477.15 24.11 477.88 24.09 478.62 24.07 479.35 24.05 480.08 24.03 480.81 24.02 481.55 24 482.28 23.99 483.01 23.97 483.74 23.96 484.47 23.95 485.2 23.94 485.93 23.93 486.66 23.93 487.39 23.93 488.12 23.93 488.85 23.93 489.58 23.93 490.31 23.94 491.04 23.95 491.77 23.97 492.5 23.98 493.23 24 493.96 24.03 494.68 24.05 495.41 24.09 496.14 24.12 496.87 24.16 497.59 24.2 498.32 24.25 499.05 24.3 499.78 24.36 500.5 24.42 501.23 24.48 501.96 24.55 502.68 24.63 503.41 24.71 504.14 24.79 504.86 24.89 505.59 24.98 506.31 25.09 507.04 25.19 507.76 25.31 508.49 25.43 509.2 25.57 509.9 25.74 510.56 25.97 511.18 26.26 511.74 26.64 512.24 27.1 512.68 27.64 513.06 28.24 513.38 28.89 513.64 29.59 513.84 30.31 514 31.07 514.12 31.83 514.21 32.61 514.28 33.4 514.34 34.18 514.39 34.95 514.44 35.71 514.5 36.46 514.55 37.2 514.6 37.93 514.65 38.64 514.7 39.35 514.75 40.06 514.8 40.75 514.85 41.45 514.9 42.14 514.95 42.82 514.99 43.51 515.03 44.19 515.07 44.88 515.11 45.57 515.14 46.26 515.18 46.95 515.21 47.65 515.23 48.36 515.26 49.07 515.28 49.8 515.29 50.53 515.31 51.27 515.32 52.02 515.32 52.79 515.32 53.57 515.32 54.36 515.31 55.17 515.3 56M375.51 119.19 376.06 119.19 376.64 119.19 377.24 119.19 377.86 119.19 378.5 119.19 379.15 119.19 379.82 119.18 380.51 119.18 381.21 119.17 381.93 119.16 382.65 119.15 383.39 119.13 384.13 119.11 384.89 119.08 385.65 119.04 386.41 119 387.19 118.95 387.96 118.9 388.74 118.83 389.52 118.76 390.3 118.67 391.08 118.58 391.86 118.47 392.64 118.36 393.41 118.23 394.18 118.08 394.94 117.93 395.69 117.76 396.44 117.58 397.18 117.38 397.9 117.17 398.62 116.94 399.32 116.69 400 116.43 400.68 116.14 401.33 115.84 401.97 115.52 402.59 115.18 403.19 114.82 403.77 114.44 404.33 114.04 404.86 113.61 405.37 113.16 405.86 112.69 406.32 112.2 406.75 111.68 407.15 111.13 407.53 110.57 407.89 109.98 408.21 109.37 408.52 108.74 408.81 108.1 409.07 107.44 409.32 106.76 409.55 106.07 409.76 105.37 409.96 104.66 410.15 103.94 410.32 103.21 410.48 102.48 410.63 101.74 410.77 100.99 410.91 100.25 411.04 99.5 411.16 98.76 411.28 98.01 411.4 97.27 411.52 96.54 411.64 95.81 411.75 95.08 411.87 94.36 411.98 93.64 412.09 92.93 412.2 92.22 412.31 91.51 412.42 90.8 412.52 90.1 412.62 89.39 412.72 88.69 412.82 87.99 412.91 87.29 413 86.58 413.08 85.88 413.16 85.18 413.24 84.47 413.32 83.77 413.39 83.06 413.46 82.35 413.53 81.65 413.59 80.94 413.66 80.23 413.72 79.52 413.78 78.81 413.84 78.1 413.89 77.39 413.95 76.68 414.01 75.97 414.06 75.25 414.12 74.54 414.17 73.83 414.23 73.11 414.28 72.4 414.34 71.68 414.39 70.97 414.45 70.25 414.51 69.53 414.57 68.82 414.63 68.1 414.69 67.38 414.76 66.66 414.83 65.95 414.9 65.23 414.97 64.51 415.04 63.79 415.12 63.07 415.2 62.35 415.28 61.63 415.37 60.91 415.46 60.18 415.56 59.46 415.66 58.74 415.76 58.02 415.87 57.3 415.98 56.57 416.1 55.85 416.22 55.13 416.35 54.41 416.48 53.68 416.62 52.96 416.77 52.24 416.92 51.51 417.08 50.79 417.25 50.08 417.43 49.36 417.61 48.65 417.8 47.94 418.01 47.24 418.22 46.54 418.44 45.85 418.67 45.16 418.92 44.48 419.17 43.81 419.44 43.15 419.72 42.49 420.01 41.84 420.32 41.2 420.64 40.57 420.97 39.96 421.32 39.35 421.68 38.75 422.06 38.17 422.45 37.6 422.87 37.04 423.29 36.5 423.74 35.97 424.2 35.46 424.68 34.96 425.17 34.48 425.69 34.01 426.23 33.56 426.78 33.13 427.36 32.72 427.95 32.33 428.57 31.95 429.21 31.59 429.86 31.26 430.53 30.93 431.21 30.63 431.9 30.34 432.61 30.07 433.32 29.82 434.04 29.57 434.77 29.35 435.5 29.13 436.23 28.93 436.96 28.74 437.69 28.57 438.42 28.4 439.14 28.25 439.87 28.11 440.59 27.97 441.31 27.85 442.03 27.74 442.75 27.63 443.46 27.54 444.18 27.45 444.89 27.37 445.6 27.29 446.31 27.23 447.02 27.17 447.73 27.11 448.44 27.06 449.15 27.01 449.86 26.97 450.57 26.94 451.27 26.9 451.98 26.87 452.69 26.84 453.4 26.82 454.11 26.79 454.82 26.77 455.53 26.74 456.24 26.72 456.95 26.7 457.66 26.68 458.37 26.65 459.09 26.63 459.8 26.61 460.52 26.59 461.23 26.56 461.95 26.54 462.66 26.52 463.38 26.49 464.1 26.47 464.82 26.45 465.54 26.42 466.25 26.4 466.97 26.38 467.69 26.35 468.42 26.33 469.14 26.3 469.86 26.28 470.58 26.26 471.3 26.23 472.02 26.21 472.75 26.18 473.47 26.16 474.19 26.13 474.92 26.11 475.64 26.08 476.36 26.06 477.09 26.03 477.81 26.01 478.54 25.98 479.26 25.96 479.98 25.94 480.71 25.91 481.43 25.89 482.16 25.87 482.88 25.86 483.6 25.84 484.33 25.83 485.05 25.81 485.78 25.8 486.5 25.79 487.22 25.79 487.95 25.79 488.67 25.78 489.39 25.79 490.12 25.79 490.84 25.8 491.56 25.81 492.28 25.83 493 25.85 493.73 25.87 494.45 25.89 495.17 25.92 495.89 25.96 496.61 26 497.33 26.04 498.04 26.09 498.76 26.14 499.48 26.2 500.2 26.26 500.91 26.33 501.63 26.41 502.34 26.49 503.06 26.57 503.77 26.66 504.49 26.76 505.2 26.86 505.91 26.97 506.62 27.09 507.33 27.21 508.04 27.34 508.75 27.49 509.43 27.66 510.09 27.88 510.7 28.16 511.26 28.51 511.77 28.94 512.21 29.45 512.59 30.02 512.91 30.65 513.18 31.32 513.39 32.04 513.55 32.78 513.68 33.54 513.78 34.32 513.86 35.1 513.92 35.88 513.99 36.65 514.05 37.4 514.12 38.13 514.19 38.86 514.26 39.56 514.34 40.26 514.41 40.95 514.48 41.63 514.56 42.3 514.63 42.97 514.7 43.64 514.77 44.3 514.83 44.96 514.9 45.63 514.95 46.3 515.01 46.97 515.05 47.65 515.09 48.33 515.13 49.03 515.16 49.74 515.18 50.46 515.19 51.2 515.19 51.95 515.19 52.72 515.17 53.5 515.14 54.31 515.1 55.14 515.05 56M375.51 119.2 375.97 119.1 376.47 119.03 376.99 118.96 377.55 118.91 378.12 118.87 378.72 118.83 379.35 118.81 379.99 118.79 380.66 118.79 381.34 118.78 382.04 118.78 382.76 118.79 383.49 118.8 384.23 118.81 384.99 118.82 385.76 118.83 386.53 118.85 387.32 118.86 388.11 118.86 388.91 118.86 389.71 118.86 390.52 118.85 391.32 118.84 392.13 118.82 392.93 118.79 393.74 118.74 394.54 118.69 395.33 118.63 396.12 118.55 396.9 118.46 397.67 118.36 398.43 118.24 399.18 118.11 399.91 117.95 400.64 117.78 401.34 117.59 402.03 117.38 402.7 117.14 403.35 116.89 403.98 116.61 404.59 116.31 405.17 115.98 405.73 115.62 406.26 115.24 406.77 114.83 407.25 114.39 407.69 113.92 408.11 113.42 408.49 112.89 408.85 112.33 409.18 111.75 409.48 111.14 409.76 110.51 410.01 109.86 410.25 109.19 410.46 108.51 410.66 107.81 410.84 107.09 411 106.37 411.15 105.64 411.29 104.9 411.42 104.15 411.54 103.41 411.65 102.66 411.76 101.91 411.86 101.16 411.96 100.42 412.06 99.68 412.16 98.95 412.25 98.23 412.35 97.51 412.44 96.8 412.54 96.09 412.63 95.39 412.72 94.69 412.82 93.99 412.9 93.3 412.99 92.6 413.08 91.91 413.16 91.22 413.24 90.54 413.32 89.85 413.39 89.15 413.47 88.46 413.54 87.77 413.61 87.08 413.67 86.38 413.74 85.69 413.8 84.99 413.86 84.3 413.92 83.6 413.98 82.9 414.04 82.2 414.09 81.5 414.15 80.8 414.2 80.1 414.26 79.4 414.31 78.7 414.37 78 414.42 77.29 414.48 76.59 414.53 75.88 414.59 75.18 414.65 74.47 414.71 73.77 414.76 73.06 414.82 72.35 414.89 71.64 414.95 70.94 415.01 70.23 415.08 69.52 415.15 68.81 415.22 68.1 415.29 67.39 415.37 66.68 415.45 65.97 415.53 65.26 415.62 64.54 415.7 63.83 415.79 63.12 415.89 62.41 415.99 61.7 416.09 60.98 416.2 60.27 416.31 59.56 416.42 58.84 416.54 58.13 416.66 57.42 416.79 56.7 416.93 55.99 417.06 55.28 417.21 54.56 417.36 53.85 417.52 53.14 417.68 52.43 417.85 51.72 418.03 51.02 418.21 50.32 418.41 49.62 418.61 48.93 418.82 48.24 419.05 47.56 419.28 46.88 419.52 46.21 419.77 45.55 420.04 44.89 420.31 44.24 420.6 43.6 420.9 42.97 421.21 42.35 421.54 41.73 421.88 41.13 422.23 40.54 422.6 39.96 422.98 39.39 423.38 38.83 423.79 38.29 424.22 37.76 424.67 37.24 425.13 36.74 425.61 36.25 426.1 35.77 426.62 35.32 427.15 34.87 427.71 34.45 428.28 34.04 428.87 33.65 429.47 33.27 430.1 32.91 430.73 32.57 431.38 32.24 432.04 31.92 432.72 31.62 433.4 31.33 434.08 31.05 434.78 30.79 435.47 30.53 436.18 30.29 436.88 30.05 437.58 29.83 438.28 29.61 438.99 29.4 439.69 29.2 440.39 29.01 441.09 28.83 441.79 28.66 442.49 28.49 443.19 28.33 443.89 28.18 444.59 28.04 445.29 27.91 445.98 27.79 446.68 27.67 447.38 27.56 448.08 27.46 448.78 27.37 449.48 27.29 450.18 27.21 450.88 27.14 451.58 27.08 452.28 27.03 452.98 26.98 453.68 26.94 454.38 26.91 455.08 26.88 455.78 26.87 456.48 26.86 457.19 26.86 457.89 26.86 458.6 26.87 459.3 26.89 460.01 26.91 460.71 26.93 461.42 26.97 462.12 27 462.83 27.04 463.54 27.08 464.25 27.13 464.96 27.18 465.67 27.23 466.37 27.28 467.08 27.34 467.79 27.4 468.5 27.45 469.21 27.51 469.92 27.57 470.64 27.63 471.35 27.69 472.06 27.74 472.77 27.8 473.48 27.85 474.19 27.9 474.91 27.95 475.62 28 476.33 28.05 477.04 28.09 477.76 28.13 478.47 28.17 479.18 28.2 479.89 28.24 480.61 28.28 481.32 28.31 482.03 28.34 482.75 28.38 483.46 28.41 484.17 28.44 484.88 28.47 485.6 28.5 486.31 28.54 487.02 28.57 487.73 28.61 488.44 28.64 489.15 28.68 489.87 28.72 490.58 28.76 491.29 28.8 492 28.85 492.71 28.89 493.42 28.94 494.13 29 494.84 29.05 495.54 29.11 496.25 29.17 496.96 29.24 497.67 29.3 498.37 29.38 499.08 29.45 499.79 29.54 500.49 29.62 501.2 29.71 501.9 29.81 502.6 29.91 503.31 30.01 504.01 30.13 504.71 30.24 505.41 30.37 506.11 30.5 506.81 30.63 507.51 30.78 508.21 30.93 508.89 31.1 509.54 31.32 510.16 31.58 510.72 31.92 511.23 32.33 511.67 32.82 512.05 33.37 512.38 33.98 512.65 34.64 512.86 35.33 513.04 36.05 513.18 36.79 513.3 37.54 513.41 38.3 513.51 39.05 513.62 39.78 513.75 40.49 513.89 41.18 514.04 41.85 514.21 42.5 514.38 43.14 514.55 43.76 514.72 44.38 514.89 45 515.06 45.62 515.21 46.23 515.35 46.86 515.47 47.49 515.58 48.14 515.66 48.8 515.71 49.48 515.74 50.18 515.73 50.91 515.68 51.67 515.6 52.46 515.47 53.28 515.3 54.14 515.08 55.05 514.8 56" fill="none" stroke="#7d7d7d" stroke-width="1.3"/><path d="M516.6 17.5L516.2 30L515.8 56M375.5 122.65 376.91 122.63 378.33 122.61 379.74 122.59 381.15 122.57 382.56 122.55 383.98 122.53 385.39 122.52 386.8 122.5 388.22 122.48 389.63 122.46 391.04 122.44 392.45 122.42 393.87 122.4 395.28 122.38 396.69 122.37 398.11 122.35 399.52 122.33 400.93 122.31 402.35 122.29 403.76 122.27 405.17 122.25 406.59 122.23 408 122.21 409.41 122.19 410.83 122.17 412.24 122.15 413.65 122.13 415.07 122.11 416.48 122.09 417.89 122.07 419.31 122.04 420.72 122.02 422.13 122 423.55 121.98 424.96 121.96 426.37 121.94 427.79 121.91 429.2 121.89 430.61 121.87 432.03 121.85 433.44 121.82 434.86 121.8 436.27 121.78 437.68 121.75 439.1 121.73 440.51 121.7 441.92 121.68 443.34 121.65 444.75 121.63 446.16 121.6 447.58 121.58 448.99 121.55 450.41 121.53 451.82 121.5 453.23 121.47 454.65 121.45 456.06 121.42 457.47 121.39 458.89 121.37 460.3 121.34 461.71 121.31 463.13 121.28 464.54 121.25 465.95 121.22 467.37 121.19 468.78 121.16 470.2 121.13 471.61 121.1 473.02 121.07 474.44 121.04 475.85 121.01 477.26 120.98 478.67 120.94 480.09 120.91 481.5 120.88 482.91 120.84 484.33 120.81 485.74 120.78 487.15 120.74 488.57 120.71 489.98 120.67 491.39 120.63 492.8 120.6 494.22 120.56 495.63 120.52 497.04 120.49 498.46 120.45 499.87 120.41 501.28 120.37 502.69 120.33 504.11 120.29 505.52 120.25 506.93 120.21 508.34 120.17 509.75 120.13 511.17 120.08 512.58 120.04 513.99 120 515.4 119.95 516.81 119.91 518.23 119.87 519.64 119.82 521.05 119.77 522.46 119.73 523.87 119.68 525.28 119.63 526.69 119.59 528.11 119.54 529.52 119.49 530.93 119.44 532.34 119.39 533.75 119.34 535.16 119.29 536.57 119.24 537.98 119.18 539.39 119.13 540.8 119.08 542.21 119.02 543.62 118.97M511.83 120.51 512.5 120.65 513.18 120.78 513.84 120.9 514.51 121 515.17 121.09 515.82 121.16 516.47 121.21 517.12 121.25 517.76 121.28 518.4 121.29 519.03 121.29 519.65 121.28 520.28 121.25 520.89 121.2 521.5 121.15 522.11 121.08 522.71 120.99 523.31 120.9 523.9 120.79 524.48 120.66 525.06 120.53 525.63 120.38 526.2 120.22 526.76 120.05 527.32 119.87 527.87 119.67 528.41 119.47 528.95 119.25 529.49 119.02 530.01 118.78 530.53 118.53 531.04 118.26 531.55 117.99 532.05 117.71 532.55 117.41 533.03 117.11 533.51 116.79 533.99 116.47 534.46 116.14 534.92 115.79 535.37 115.44 535.82 115.08 536.26 114.71 536.69 114.33 537.11 113.94 537.53 113.54 537.94 113.14 538.34 112.72 538.74 112.3 539.13 111.87 539.51 111.43 539.88 110.99 540.25 110.53 540.6 110.07 540.95 109.61 541.29 109.13 541.63 108.65 541.95 108.16 542.27 107.67 542.58 107.17 542.88 106.66 543.17 106.15 543.45 105.63 543.73 105.1 543.99 104.57 544.25 104.04 544.5 103.5 544.74 102.95 544.97 102.4 545.19 101.85 545.41 101.29 545.62 100.72 545.82 100.15 546.01 99.58 546.19 99 546.37 98.42 546.54 97.84 546.71 97.26 546.86 96.67 547.01 96.07 547.16 95.48 547.3 94.88 547.43 94.28 547.56 93.68 547.68 93.08 547.79 92.47 547.9 91.86 548.01 91.26 548.11 90.65 548.2 90.04 548.29 89.43 548.38 88.81 548.46 88.2 548.54 87.59 548.62 86.98 548.69 86.37 548.75 85.75 548.82 85.14 548.88 84.53 548.94 83.92 548.99 83.31 549.04 82.71 549.09 82.1 549.14 81.5 549.19 80.89 549.23 80.29 549.28 79.69 549.32 79.1 549.36 78.51 549.39 77.92 549.43 77.33 549.47 76.74 549.5 76.16 549.54 75.58 549.57 75.01 549.61 74.44 549.64 73.87 549.68 73.31 549.71 72.75M550.29 52.56 550.32 52.28 550.35 51.99 550.38 51.7 550.39 51.41 550.41 51.11 550.42 50.81 550.42 50.5 550.42 50.19 550.42 49.88 550.41 49.56 550.39 49.24 550.38 48.91 550.36 48.59 550.34 48.25 550.31 47.92 550.28 47.58 550.25 47.24 550.21 46.9 550.17 46.55 550.13 46.2 550.09 45.85 550.05 45.49 550 45.14 549.95 44.78 549.9 44.42 549.85 44.06 549.79 43.69 549.74 43.33 549.68 42.96 549.62 42.59 549.56 42.22 549.5 41.84 549.45 41.47 549.39 41.1 549.32 40.72 549.26 40.34 549.2 39.97 549.14 39.59 549.08 39.21 549.02 38.83 548.96 38.45 548.91 38.07 548.85 37.69 548.79 37.32 548.74 36.94 548.68 36.56 548.63 36.18 548.58 35.8 548.53 35.42 548.49 35.05 548.44 34.67 548.4 34.29 548.36 33.92 548.32 33.55 548.29 33.18 548.26 32.8 548.23 32.44 548.21 32.07 548.18 31.7 548.17 31.34 548.15 30.98 548.14 30.62 548.13 30.26 548.13 29.9 548.13 29.55 548.14 29.2 548.15 28.85 548.16 28.5 548.18 28.16 548.21 27.82 548.24 27.48 548.27 27.15 548.31 26.82 548.36 26.49 548.41 26.17 548.47 25.85 548.53 25.53 548.6 25.22 548.68 24.91 548.76 24.6 548.85 24.3 548.95 24 549.05 23.71 549.16 23.42 549.28 23.14 549.41 22.86 549.54 22.59 549.68 22.32 549.83 22.05 549.98 21.79 550.15 21.54 550.32 21.29 550.5 21.05 550.69 20.81 550.89 20.58 551.1 20.35 551.32 20.13 551.54 19.92 551.78 19.71 552.02 19.51 552.28 19.31 552.54 19.12 552.81 18.94 553.1 18.76 553.39 18.59 553.7 18.43 554.01 18.28 554.34 18.13 554.68 17.99 555.02 17.85 555.38 17.73 555.75 17.61 556.14 17.49 556.53 17.39 556.94 17.3 557.35 17.21 557.78 17.13 558.22 17.06 558.68 16.99M515.06 121.24 515.74 121.12 516.43 121.02 517.12 120.92 517.83 120.84 518.54 120.76 519.25 120.7 519.97 120.64 520.7 120.59 521.44 120.55 522.17 120.51 522.92 120.48 523.66 120.46 524.42 120.44 525.17 120.43 525.93 120.42 526.7 120.41 527.46 120.41 528.23 120.41 529 120.41 529.78 120.41 530.55 120.41 531.33 120.42 532.11 120.42 532.89 120.42 533.67 120.42 534.46 120.42 535.24 120.41 536.02 120.41 536.8 120.4 537.59 120.38 538.37 120.36 539.15 120.34 539.93 120.31 540.7 120.27 541.48 120.22 542.25 120.17 543.02 120.11 543.79 120.05 544.55 119.97 545.31 119.88 546.07 119.79 546.82 119.68 547.57 119.56 548.32 119.43 549.06 119.29 549.79 119.13 550.52 118.96 551.25 118.78 551.97 118.58 552.68 118.37 553.38 118.14 554.08 117.9 554.78 117.64 555.46 117.36 556.14 117.06 556.8 116.75 557.46 116.42 558.11 116.07 558.75 115.71 559.37 115.32 559.98 114.92 560.57 114.5 561.15 114.07 561.71 113.61 562.25 113.14 562.78 112.65 563.29 112.14 563.77 111.62 564.23 111.07 564.68 110.51 565.09 109.93 565.49 109.33 565.86 108.72 566.21 108.09 566.54 107.45 566.85 106.79 567.14 106.12 567.41 105.43 567.67 104.74 567.91 104.03 568.13 103.31 568.33 102.58 568.52 101.85 568.7 101.1 568.87 100.35 569.02 99.59 569.16 98.83 569.29 98.06 569.41 97.29 569.52 96.51 569.62 95.74 569.72 94.95 569.8 94.17 569.88 93.39 569.96 92.61 570.03 91.83 570.1 91.05 570.16 90.28 570.22 89.5 570.28 88.73 570.34 87.96 570.39 87.2 570.45 86.44 570.5 85.68 570.56 84.92 570.62 84.17 570.67 83.42 570.73 82.67 570.79 81.92 570.86 81.18 570.93 80.44 571 79.71 571.07 78.98 571.15 78.25 571.24 77.53 571.33 76.81 571.43 76.09 571.54 75.38 571.65 74.67M571.7 26.5 571.72 26.34 571.74 26.19 571.76 26.04 571.78 25.89 571.8 25.73 571.82 25.59 571.85 25.44 571.88 25.29 571.9 25.15 571.93 25 571.96 24.86 572 24.72 572.03 24.58 572.06 24.44 572.1 24.3 572.14 24.17 572.17 24.03 572.21 23.9 572.25 23.76 572.3 23.63 572.34 23.5 572.39 23.38 572.43 23.25 572.48 23.12 572.53 23 572.58 22.87 572.63 22.75 572.68 22.63 572.74 22.51 572.79 22.4 572.85 22.28 572.9 22.16 572.96 22.05 573.02 21.94 573.09 21.82 573.15 21.71 573.21 21.61 573.28 21.5 573.35 21.39 573.41 21.29 573.48 21.18 573.55 21.08 573.63 20.98 573.7 20.88 573.77 20.78 573.85 20.68 573.93 20.59 574.01 20.49 574.09 20.4 574.17 20.31 574.25 20.22 574.33 20.13 574.42 20.04 574.5 19.95 574.59 19.87 574.68 19.78 574.77 19.7 574.86 19.62 574.95 19.54 575.05 19.46 575.14 19.38 575.24 19.31 575.34 19.23 575.44 19.16 575.54 19.08 575.64 19.01 575.74 18.94 575.85 18.87 575.95 18.81 576.06 18.74 576.17 18.68 576.28 18.61 576.39 18.55 576.5 18.49 576.62 18.43 576.73 18.37 576.85 18.32 576.97 18.26 577.08 18.21 577.2 18.15 577.33 18.1 577.45 18.05 577.57 18 577.7 17.95 577.82 17.91 577.95 17.86 578.08 17.82 578.21 17.78 578.34 17.73 578.48 17.69 578.61 17.66 578.75 17.62 578.88 17.58 579.02 17.55 579.16 17.51 579.3 17.48 579.44 17.45 579.59 17.42 579.73 17.39 579.88 17.37 580.03 17.34 580.17 17.32 580.32 17.29 580.48 17.27 580.63 17.25 580.78 17.23 580.94 17.21 581.09 17.2 581.25 17.18 581.41 17.17 581.57 17.15 581.73 17.14 581.9 17.13 582.06 17.12 582.22 17.12 582.39 17.11 582.56 17.11 582.73 17.1 582.9 17.1M571.3 44.2h0.8M517.3 20 517.35 19.96 517.41 19.93 517.46 19.89 517.52 19.85 517.57 19.82 517.63 19.78 517.68 19.74 517.74 19.71 517.79 19.67 517.85 19.64 517.91 19.6 517.96 19.57 518.02 19.53 518.07 19.5 518.13 19.47 518.19 19.43 518.24 19.4 518.3 19.36 518.35 19.33 518.41 19.3 518.47 19.27 518.52 19.23 518.58 19.2 518.64 19.17 518.69 19.14 518.75 19.11 518.81 19.08 518.87 19.05 518.92 19.02 518.98 18.99 519.04 18.96 519.1 18.93 519.15 18.9 519.21 18.87 519.27 18.84 519.33 18.81 519.39 18.78 519.44 18.75 519.5 18.73 519.56 18.7 519.62 18.67 519.68 18.64 519.74 18.62 519.8 18.59 519.85 18.56 519.91 18.54 519.97 18.51 520.03 18.49 520.09 18.46 520.15 18.44 520.21 18.41 520.27 18.39 520.33 18.36 520.39 18.34 520.45 18.31 520.51 18.29 520.57 18.27 520.63 18.24 520.69 18.22 520.75 18.2 520.81 18.17 520.87 18.15 520.93 18.13 520.99 18.11 521.06 18.09 521.12 18.07 521.18 18.05 521.24 18.02 521.3 18 521.36 17.98 521.42 17.96 521.49 17.94 521.55 17.92 521.61 17.91 521.67 17.89 521.73 17.87 521.8 17.85 521.86 17.83 521.92 17.81 521.98 17.8 522.05 17.78 522.11 17.76 522.17 17.74 522.23 17.73 522.3 17.71 522.36 17.69 522.42 17.68 522.49 17.66 522.55 17.65 522.61 17.63 522.68 17.62 522.74 17.6 522.81 17.59 522.87 17.57 522.93 17.56 523 17.55 523.06 17.53 523.13 17.52 523.19 17.51 523.25 17.49 523.32 17.48 523.38 17.47 523.45 17.46 523.51 17.45 523.58 17.43 523.64 17.42 523.71 17.41 523.77 17.4 523.84 17.39 523.91 17.38 523.97 17.37 524.04 17.36 524.1 17.35 524.17 17.34 524.23 17.33 524.3 17.32 524.37 17.32 524.43 17.31 524.5 17.3M526.8 24 526.81 23.89 526.82 23.79 526.84 23.68 526.85 23.58 526.86 23.48 526.88 23.37 526.89 23.27 526.91 23.17 526.93 23.07 526.95 22.97 526.97 22.88 526.99 22.78 527.01 22.68 527.03 22.59 527.05 22.49 527.07 22.4 527.1 22.31 527.12 22.21 527.15 22.12 527.17 22.03 527.2 21.94 527.23 21.85 527.26 21.77 527.29 21.68 527.32 21.59 527.35 21.51 527.38 21.42 527.41 21.34 527.44 21.26 527.48 21.18 527.51 21.1 527.55 21.02 527.59 20.94 527.62 20.86 527.66 20.78 527.7 20.7 527.74 20.63 527.78 20.55 527.82 20.48 527.86 20.41 527.91 20.33 527.95 20.26 528 20.19 528.04 20.12 528.09 20.05 528.13 19.98 528.18 19.92 528.23 19.85 528.28 19.78 528.33 19.72 528.38 19.66 528.43 19.59 528.48 19.53 528.54 19.47 528.59 19.41 528.65 19.35 528.7 19.29 528.76 19.23 528.82 19.17 528.87 19.12 528.93 19.06 528.99 19.01 529.05 18.95 529.11 18.9 529.17 18.85 529.24 18.8 529.3 18.75 529.37 18.7 529.43 18.65 529.5 18.6 529.56 18.55 529.63 18.51 529.7 18.46 529.77 18.42 529.84 18.38 529.91 18.33 529.98 18.29 530.05 18.25 530.13 18.21 530.2 18.17 530.27 18.13 530.35 18.09 530.43 18.06 530.5 18.02 530.58 17.99 530.66 17.95 530.74 17.92 530.82 17.89 530.9 17.85 530.98 17.82 531.06 17.79 531.15 17.76 531.23 17.74 531.32 17.71 531.4 17.68 531.49 17.66 531.58 17.63 531.67 17.61 531.75 17.58 531.84 17.56 531.93 17.54 532.03 17.52 532.12 17.5 532.21 17.48 532.3 17.46 532.4 17.45 532.49 17.43 532.59 17.41 532.69 17.4 532.78 17.39 532.88 17.37 532.98 17.36 533.08 17.35 533.18 17.34 533.29 17.33 533.39 17.32 533.49 17.31 533.6 17.31 533.7 17.3M527.6 30.6L528 44M516.7 118.6L518 110M518.5 106L520 100M525 117L526.5 109M527 105L527.6 101.8M518.27 142.99 518.27 142.04 518.48 141.28 518.86 140.69 519.37 140.25 519.98 139.92 520.65 139.67 521.35 139.49 522.06 139.34 522.78 139.24 523.51 139.17 524.24 139.15 524.99 139.15 525.74 139.18 526.49 139.25 527.25 139.33 528.02 139.44 528.79 139.57 529.56 139.71 530.33 139.87 531.11 140.04 531.88 140.22 532.65 140.41 533.43 140.6 534.2 140.79 534.97 140.97 535.74 141.16 536.5 141.34 537.26 141.51 538.02 141.68 538.77 141.85 539.52 142.02 540.27 142.18 541.01 142.34 541.75 142.51 542.49 142.67 543.23 142.83 543.96 143 544.69 143.16 545.42 143.33 546.15 143.5 546.87 143.67 547.59 143.85 548.31 144.03 549.03 144.21 549.74 144.4 550.45 144.6 551.17 144.8 551.87 145.01 552.58 145.23 553.29 145.45 553.99 145.69 554.69 145.93 555.39 146.18 556.09 146.44 556.79 146.72 557.48 147 558.18 147.29 558.87 147.6 559.56 147.92 560.25 148.26 560.94 148.6 561.63 148.96 562.31 149.34 562.99 149.72 563.66 150.12 564.32 150.53 564.98 150.95 565.63 151.39 566.26 151.84 566.89 152.29 567.5 152.76 568.09 153.24 568.68 153.73 569.24 154.24 569.79 154.75 570.33 155.27 570.85 155.8 571.36 156.34 571.85 156.9 572.33 157.46 572.8 158.03 573.26 158.61 573.71 159.19 574.14 159.79 574.57 160.4 574.99 161.01 575.4 161.63 575.8 162.26 576.19 162.9 576.58 163.55 576.96 164.2 577.34 164.86 577.71 165.53 578.07 166.21 578.43 166.89 578.79 167.58 579.15 168.27 579.5 168.97 579.85 169.68 580.2 170.39 580.53 171.11 580.83 171.83 581.09 172.56 581.31 173.28 581.47 174.01 581.56 174.73 581.58 175.45 581.52 176.17 581.38 176.89 581.17 177.6 580.9 178.3 580.6 178.99 580.27 179.67 579.91 180.34 579.54 181 579.15 181.65 578.74 182.29 578.32 182.92 577.88 183.55 577.43 184.16 576.98 184.77 576.51 185.38 576.04 185.98 575.57 186.58 575.09 187.18 574.61 187.78 574.13 188.37 573.65 188.96 573.16 189.55 572.67 190.13 572.18 190.7 571.68 191.26 571.17 191.82 570.65 192.37 570.12 192.9 569.58 193.43 569.03 193.93 568.47 194.43 567.89 194.91 567.3 195.37 566.7 195.82 566.09 196.26 565.46 196.69 564.83 197.11 564.2 197.52 563.55 197.92 562.9 198.31 562.25 198.7 561.59 199.09 560.93 199.47 560.27 199.85 559.61 200.22 558.95 200.6 558.29 200.97 557.62 201.35 556.96 201.71 556.29 202.08 555.63 202.44 554.96 202.79 554.28 203.13 553.61 203.47 552.93 203.8 552.25 204.12 551.56 204.43 550.87 204.73 550.17 205.02 549.47 205.29 548.76 205.55 548.05 205.8 547.33 206.04 546.61 206.27 545.88 206.49 545.15 206.7 544.42 206.9 543.69 207.09 542.95 207.28 542.21 207.46 541.48 207.64 540.74 207.81 540 207.98 539.26 208.14 538.52 208.31 537.78 208.47 537.05 208.63 536.32 208.79 535.59 208.96 534.86 209.12 534.14 209.29 533.41 209.46 532.69 209.63 531.97 209.8 531.25 209.97 530.53 210.14 529.8 210.31 529.07 210.47 528.34 210.63 527.59 210.79 526.84 210.95 526.08 211.09 525.32 211.24 524.54 211.37 523.75 211.5 522.94 211.62 522.13 211.73 521.34 211.79 520.59 211.77 519.92 211.63 519.36 211.34 518.91 210.91 518.57 210.33 518.35 209.64 518.19 208.88 518.09 208.09 518.01 207.29 517.94 206.51 517.9 205.73 517.87 204.95 517.85 204.18 517.84 203.41 517.85 202.65 517.86 201.89 517.89 201.13 517.92 200.38 517.95 199.63 517.99 198.88 518.03 198.13 518.07 197.38 518.11 196.63 518.15 195.88 518.19 195.14 518.22 194.39 518.25 193.64 518.27 192.89 518.29 192.13 518.3 191.38 518.31 190.63 518.32 189.87 518.32 189.12 518.32 188.36 518.32 187.61 518.31 186.85 518.31 186.1 518.3 185.34 518.29 184.58 518.28 183.82 518.27 183.07 518.26 182.31 518.25 181.55 518.24 180.8 518.23 180.04 518.22 179.28 518.21 178.52 518.2 177.77 518.2 177.01 518.19 176.25 518.18 175.5 518.18 174.74 518.17 173.98 518.17 173.23 518.17 172.47 518.16 171.72 518.16 170.96 518.16 170.2 518.16 169.45 518.16 168.69 518.16 167.94 518.16 167.18 518.16 166.42 518.16 165.67 518.16 164.91 518.16 164.16 518.16 163.4 518.17 162.65 518.17 161.89 518.17 161.14 518.17 160.38 518.18 159.63 518.18 158.87 518.19 158.12 518.19 157.36 518.2 156.6 518.2 155.85 518.2 155.09 518.21 154.34 518.21 153.58 518.22 152.83 518.22 152.07 518.23 151.32 518.23 150.56 518.24 149.8 518.25 149.05 518.25 148.29 518.26 147.54 518.26 146.78 518.26 146.02 518.27 145.27 518.27 144.51 518.28 143.76 518.28 143M538.53 142.92 539.28 143.09 540.03 143.26 540.78 143.42 541.52 143.58 542.25 143.74 542.99 143.91 543.72 144.07 544.45 144.23 545.17 144.4 545.89 144.57 546.61 144.74 547.33 144.92 548.04 145.09 548.75 145.28 549.45 145.47 550.16 145.66 550.86 145.86 551.56 146.07 552.25 146.28 552.95 146.5 553.64 146.73 554.33 146.97 555.01 147.21 555.7 147.47 556.38 147.74 557.06 148.02 557.74 148.3 558.42 148.6 559.09 148.92 559.77 149.24 560.44 149.58 561.11 149.93 561.77 150.3 562.44 150.67 563.09 151.06 563.74 151.46 564.37 151.87 565 152.3 565.62 152.73 566.23 153.17 566.82 153.63 567.39 154.09 567.96 154.57 568.5 155.05 569.03 155.54 569.55 156.05 570.05 156.56 570.54 157.09 571.02 157.62 571.49 158.16 571.94 158.72 572.39 159.28 572.82 159.85 573.25 160.43 573.67 161.02 574.07 161.62 574.47 162.23 574.87 162.85 575.25 163.47 575.63 164.11 576.01 164.75 576.38 165.4 576.74 166.06 577.1 166.73 577.46 167.4 577.82 168.08 578.17 168.77 578.52 169.47 578.87 170.16 579.2 170.86 579.52 171.55 579.8 172.23 580.05 172.9 580.24 173.56 580.39 174.2 580.47 174.82 580.48 175.42 580.43 176.01 580.31 176.62 580.12 177.25 579.88 177.89 579.6 178.53 579.29 179.18 578.95 179.81 578.59 180.45 578.21 181.07 577.82 181.69 577.41 182.3 576.98 182.91 576.55 183.51 576.1 184.11 575.64 184.71 575.18 185.3 574.71 185.9 574.23 186.49 573.75 187.09 573.28 187.68 572.8 188.26 572.32 188.84 571.84 189.41 571.35 189.97 570.86 190.53 570.36 191.07 569.86 191.6 569.34 192.12 568.82 192.63 568.29 193.12 567.75 193.59 567.2 194.05 566.63 194.5 566.05 194.94 565.45 195.36 564.85 195.78 564.23 196.19 563.61 196.59 562.98 196.98 562.34 197.37 561.69 197.75 561.04 198.14 560.38 198.51 559.72 198.89 559.06 199.27 558.4 199.64 557.75 200.02 557.09 200.38 556.43 200.75 555.77 201.11 555.11 201.46 554.45 201.81 553.79 202.15 553.12 202.48 552.46 202.81 551.79 203.12 551.11 203.42 550.44 203.72 549.76 204 549.08 204.26 548.39 204.52 547.69 204.76 546.99 205 546.28 205.22 545.57 205.43 544.86 205.64 544.13 205.84 543.41 206.03 542.68 206.21 541.95 206.39 541.22 206.57 540.49 206.74 539.76 206.9 539.02 207.07 538.28 207.23 537.55 207.39 536.81 207.56 536.08 207.72 535.34 207.88 534.61 208.05 533.89 208.22 533.16 208.39 532.44 208.56 531.72 208.73 531 208.9 530.28 209.07 529.56 209.23 528.83 209.4 528.1 209.56 527.37 209.72 526.63 209.87 525.88 210.01M525.94 156.78 525.88 156.05 525.88 155.35 525.92 154.69 526.01 154.08 526.14 153.5 526.32 152.95 526.54 152.45 526.79 151.98 527.08 151.54 527.41 151.13 527.77 150.76 528.16 150.41 528.58 150.09 529.02 149.8 529.5 149.54 529.99 149.3 530.51 149.08 531.05 148.89 531.6 148.71 532.17 148.56 532.75 148.43 533.35 148.31 533.96 148.21 534.57 148.12 535.19 148.05 535.82 147.99 536.45 147.95 537.08 147.91 537.71 147.88 538.33 147.86 538.95 147.85 539.57 147.85 540.18 147.85 540.79 147.86 541.4 147.88 542 147.91 542.6 147.94 543.19 147.98 543.79 148.03 544.37 148.09 544.96 148.16 545.54 148.23 546.12 148.31 546.69 148.4 547.26 148.5 547.83 148.61 548.39 148.73 548.95 148.86 549.51 148.99 550.06 149.13 550.61 149.29 551.16 149.45 551.71 149.62 552.25 149.8 552.79 149.98 553.32 150.18 553.85 150.39 554.38 150.61 554.91 150.83 555.43 151.07 555.95 151.31 556.47 151.57 556.98 151.83 557.49 152.1 558 152.39 558.5 152.68 559 152.97 559.5 153.28 560 153.59 560.49 153.92 560.97 154.25 561.46 154.58 561.94 154.93 562.41 155.28 562.89 155.64 563.36 156 563.82 156.37 564.28 156.75 564.74 157.13 565.2 157.52 565.65 157.92 566.09 158.32 566.54 158.73 566.98 159.14 567.41 159.56 567.84 159.98 568.27 160.41 568.69 160.84 569.11 161.27 569.52 161.71 569.93 162.16 570.33 162.61 570.73 163.06 571.13 163.51 571.52 163.97 571.91 164.43 572.29 164.9 572.67 165.36 573.04 165.83 573.41 166.3 573.77 166.78 574.13 167.25 574.48 167.73 574.83 168.21 575.18 168.69 575.51 169.18 575.85 169.66 576.18 170.14 576.5 170.63 576.82 171.11 577.13 171.6 577.43 172.09 577.71 172.58 577.97 173.07 578.21 173.57 578.41 174.07 578.58 174.57 578.71 175.08 578.8 175.6 578.84 176.12 578.84 176.65 578.79 177.18 578.69 177.71 578.56 178.24 578.4 178.78 578.19 179.3 577.96 179.83 577.7 180.34 577.41 180.85 577.1 181.35 576.77 181.83 576.42 182.3 576.05 182.76 575.66 183.21 575.26 183.64 574.85 184.06 574.42 184.47 573.98 184.87 573.53 185.25 573.06 185.63 572.59 186 572.1 186.36 571.61 186.72 571.11 187.06 570.6 187.41 570.08 187.74 569.56 188.07 569.04 188.39 568.51 188.71 567.98 189.03 567.45 189.35 566.91 189.66 566.38 189.97 565.84 190.28 565.31 190.59 564.78 190.9 564.25 191.21 563.73 191.52 563.21 191.83 562.7 192.15 562.19 192.47 561.69 192.79 561.2 193.12 560.72 193.45 560.25 193.79 559.79 194.13 559.34 194.49 558.9 194.85 558.48 195.21 558.06 195.58 557.66 195.96 557.26 196.34 556.86 196.73 556.47 197.11 556.08 197.5 555.69 197.88 555.3 198.26 554.91 198.63 554.5 199 554.09 199.36 553.67 199.72 553.24 200.06 552.79 200.39 552.33 200.71 551.85 201.02 551.35 201.31 550.83 201.59 550.3 201.85 549.76 202.09 549.2 202.32 548.63 202.54 548.04 202.74 547.45 202.93 546.85 203.09 546.24 203.25 545.62 203.38 545 203.5 544.37 203.6 543.73 203.69 543.1 203.76 542.46 203.81 541.82 203.84 541.18 203.85 540.55 203.85 539.92 203.83 539.29 203.79 538.66 203.74 538.04 203.66 537.43 203.56 536.82 203.45 536.23 203.32 535.64 203.16 535.07 202.99 534.51 202.8 533.96 202.59 533.43 202.36 532.91 202.1 532.41 201.83 531.92 201.54 531.46 201.22 531.01 200.89 530.59 200.53 530.18 200.16 529.8 199.76 529.44 199.35 529.09 198.91 528.76 198.47 528.45 198 528.16 197.53 527.88 197.04 527.62 196.53 527.38 196.02 527.15 195.49 526.94 194.96 526.74 194.41 526.56 193.86 526.39 193.31 526.23 192.74 526.08 192.17 525.95 191.6 525.83 191.03 525.72 190.45 525.62 189.87 525.53 189.29 525.45 188.71 525.38 188.13 525.32 187.55 525.27 186.96 525.22 186.37 525.19 185.79 525.16 185.2 525.14 184.61 525.13 184.01 525.12 183.42 525.12 182.83 525.13 182.24 525.14 181.64 525.16 181.05 525.18 180.45 525.21 179.85 525.24 179.26 525.27 178.66 525.31 178.06 525.35 177.46 525.4 176.86 525.44 176.26 525.49 175.67 525.54 175.07 525.59 174.47 525.65 173.87 525.7 173.27 525.75 172.67 525.81 172.07 525.86 171.47 525.91 170.88 525.97 170.28 526.01 169.68 526.06 169.09 526.11 168.49 526.15 167.9 526.19 167.3 526.23 166.71 526.26 166.12 526.29 165.52 526.31 164.93 526.33 164.34 526.35 163.76 526.36 163.17 526.36 162.58 526.36 162 526.35 161.41 526.33 160.83 526.31 160.25 526.28 159.67 526.24 159.1 526.19 158.52 526.14 157.95 526.07 157.37 526 156.8M569.99 172.32 569.85 171.89 569.7 171.47 569.53 171.05 569.34 170.64 569.13 170.24 568.91 169.85 568.67 169.46 568.42 169.09 568.16 168.72 567.88 168.37 567.58 168.02 567.28 167.68 566.96 167.35 566.63 167.03 566.29 166.72 565.94 166.43 565.57 166.14 565.2 165.86 564.82 165.6 564.43 165.34 564.04 165.1 563.63 164.87 563.22 164.65 562.8 164.45 562.38 164.25 561.95 164.07 561.52 163.9 561.08 163.75 560.64 163.61 560.19 163.48 559.74 163.36 559.29 163.26 558.84 163.18 558.39 163.1 557.94 163.05 557.49 163 557.03 162.98 556.58 162.96 556.13 162.97 555.69 162.99 555.24 163.02 554.8 163.07 554.36 163.14 553.93 163.23 553.5 163.33 553.08 163.45 552.66 163.58 552.25 163.74 551.85 163.91 551.45 164.1 551.06 164.3 550.68 164.53 550.31 164.77 549.95 165.03 549.6 165.31 549.25 165.6 548.92 165.91 548.6 166.23 548.29 166.56 547.99 166.91 547.7 167.27 547.43 167.64 547.16 168.02 546.91 168.41 546.68 168.81 546.45 169.22 546.24 169.63 546.04 170.06 545.86 170.49 545.69 170.92 545.54 171.36 545.4 171.8 545.27 172.25 545.17 172.7 545.08 173.15 545 173.6 544.94 174.06 544.9 174.51 544.88 174.96 544.88 175.41 544.89 175.86 544.92 176.3 544.97 176.75 545.04 177.19 545.12 177.62 545.22 178.05 545.33 178.47 545.46 178.9 545.61 179.31 545.77 179.72 545.95 180.12 546.13 180.52 546.34 180.91 546.56 181.29 546.79 181.66 547.03 182.03 547.28 182.38 547.55 182.73 547.83 183.07 548.12 183.4 548.42 183.72 548.73 184.03 549.05 184.33 549.38 184.61 549.72 184.89 550.07 185.15 550.43 185.4 550.79 185.64 551.17 185.86 551.55 186.07 551.94 186.27 552.33 186.45 552.73 186.62 553.14 186.77 553.55 186.91 553.97 187.03 554.4 187.14 554.82 187.22 555.26 187.29 555.69 187.35 556.13 187.38 556.57 187.4 557.02 187.4 557.46 187.38 557.91 187.34 558.36 187.29 558.81 187.21 559.27 187.11 559.72 187 560.17 186.87 560.61 186.72 561.06 186.56 561.5 186.38 561.94 186.19 562.38 185.98 562.81 185.76 563.24 185.53 563.66 185.28 564.07 185.02 564.48 184.76 564.87 184.48 565.26 184.19 565.64 183.89 566.01 183.58 566.38 183.26 566.73 182.93 567.06 182.6 567.39 182.26 567.7 181.92 568 181.57 568.29 181.21 568.56 180.85 568.82 180.49 569.06 180.12 569.28 179.75 569.49 179.38 569.68 179 569.85 178.63 570 178.26M517.4 180.7V212M518.3 225.6 560 224.2 600 222.3 645.4 220.2" fill="none" stroke="#7d7d7d" stroke-width="1.05"/><path d="M375.52 119.24 376.34 119.23 377.17 119.23 378 119.23 378.82 119.23 379.65 119.22 380.48 119.22 381.31 119.22 382.13 119.21 382.96 119.21 383.79 119.2 384.62 119.19 385.45 119.19 386.28 119.18 387.11 119.17 387.94 119.16 388.77 119.15 389.6 119.14 390.43 119.13 391.26 119.12 392.09 119.11 392.92 119.1 393.75 119.09 394.58 119.07 395.41 119.06 396.24 119.05 397.07 119.03 397.91 119.02 398.74 119 399.57 118.98 400.4 118.97 401.23 118.95 402.07 118.93 402.9 118.91 403.73 118.89 404.57 118.87 405.4 118.85 406.23 118.83 407.06 118.8 407.9 118.78 408.73 118.76 409.56 118.73 410.4 118.71 411.23 118.68 412.07 118.65 412.9 118.63 413.73 118.6 414.57 118.57 415.4 118.54 416.24 118.51 417.07 118.48 417.9 118.44 418.74 118.41 419.57 118.38 420.41 118.34 421.24 118.31 422.08 118.27 422.91 118.24 423.74 118.2 424.58 118.16 425.41 118.12 426.25 118.08 427.08 118.04 427.92 118 428.75 117.96 429.58 117.91 430.42 117.87 431.25 117.83 432.09 117.78 432.92 117.73 433.76 117.69 434.59 117.64 435.42 117.59 436.26 117.54 437.09 117.49 437.93 117.44 438.76 117.38 439.59 117.33 440.43 117.28 441.26 117.22 442.09 117.16 442.93 117.11 443.76 117.05 444.59 116.99 445.43 116.93 446.26 116.87 447.09 116.81 447.92 116.74 448.76 116.68 449.59 116.62 450.42 116.55 451.25 116.48 452.09 116.42 452.92 116.35 453.75 116.28 454.58 116.21 455.41 116.14 456.24 116.06 457.07 115.99 457.91 115.91 458.74 115.84 459.57 115.76 460.4 115.68 461.23 115.6 462.06 115.52 462.89 115.44 463.72 115.36 464.54 115.28 465.37 115.19 466.2 115.11 467.03 115.02 467.86 114.93 468.69 114.85 469.51 114.76 470.34 114.67 471.17 114.57 472 114.48 472.82 114.39 473.65 114.29 474.48 114.19 475.3 114.1 476.13 114 476.95 113.9 477.78 113.8 478.6 113.7 479.43 113.59 480.25 113.49 481.07 113.38 481.9 113.27 482.72 113.17 483.54 113.06 484.37 112.95 485.19 112.83 486.01 112.72 486.83 112.61 487.65 112.49 488.47 112.38 489.29 112.26 490.11 112.14 490.93 112.02 491.75 111.9 492.57 111.77 493.39 111.65 494.21 111.52 495.03 111.4 495.84 111.27 496.66 111.14 497.48 111.01 498.29 110.88 499.11 110.74 499.92 110.61 500.74 110.47 501.55 110.34 502.37 110.2 503.18 110.06 503.99 109.92 504.81 109.77 505.62 109.63 506.43 109.48 507.24 109.34 508.05 109.19 508.86 109.04 509.67 108.89 510.48 108.74 511.29 108.58 512.08 108.4 512.84 108.18 513.55 107.9 514.19 107.53 514.75 107.06 515.23 106.48 515.63 105.8 515.95 105.05 516.21 104.24 516.42 103.39 516.57 102.51 516.68 101.62 516.76 100.71 516.8 99.8 516.81 98.89 516.8 97.96 516.76 97.04 516.7 96.11 516.63 95.19 516.55 94.26 516.47 93.35 516.38 92.43 516.29 91.53 516.21 90.64 516.14 89.76 516.08 88.89 516.04 88.04 516.02 87.2 516.02 86.39 516.06 85.6 516.12 84.82 516.23 84.08 516.37 83.36 516.56 82.67 516.8 82.01" fill="none" stroke="#ff0000" stroke-width="1.7" stroke-linejoin="round" stroke-linecap="butt"/><path d="M375.52 119.44 376.32 119.44 377.13 119.43 377.94 119.43 378.74 119.42 379.55 119.42 380.36 119.41 381.17 119.41 381.98 119.4 382.79 119.4 383.59 119.39 384.4 119.38 385.21 119.37 386.02 119.37 386.83 119.36 387.64 119.35 388.45 119.34 389.26 119.33 390.07 119.32 390.88 119.31 391.69 119.29 392.5 119.28 393.32 119.27 394.13 119.26 394.94 119.24 395.75 119.23 396.56 119.22 397.37 119.2 398.19 119.18 399 119.17 399.81 119.15 400.62 119.13 401.44 119.12 402.25 119.1 403.06 119.08 403.88 119.06 404.69 119.04 405.5 119.02 406.32 119 407.13 118.98 407.94 118.95 408.76 118.93 409.57 118.91 410.39 118.88 411.2 118.86 412.01 118.83 412.83 118.81 413.64 118.78 414.46 118.75 415.27 118.72 416.09 118.69 416.9 118.67 417.71 118.64 418.53 118.6 419.34 118.57 420.16 118.54 420.97 118.51 421.79 118.47 422.6 118.44 423.42 118.4 424.23 118.37 425.05 118.33 425.86 118.29 426.68 118.26 427.49 118.22 428.31 118.18 429.12 118.14 429.94 118.1 430.75 118.05 431.56 118.01 432.38 117.97 433.19 117.92 434.01 117.88 434.82 117.83 435.64 117.79 436.45 117.74 437.27 117.69 438.08 117.64 438.89 117.59 439.71 117.54 440.52 117.49 441.34 117.43 442.15 117.38 442.96 117.33 443.78 117.27 444.59 117.22 445.41 117.16 446.22 117.1 447.03 117.04 447.84 116.98 448.66 116.92 449.47 116.86 450.28 116.8 451.1 116.73 451.91 116.67 452.72 116.6 453.53 116.54 454.35 116.47 455.16 116.4 455.97 116.33 456.78 116.26 457.59 116.19 458.4 116.12 459.21 116.05 460.02 115.97 460.84 115.9 461.65 115.82 462.46 115.74 463.27 115.66 464.08 115.59 464.89 115.5 465.69 115.42 466.5 115.34 467.31 115.26 468.12 115.17 468.93 115.09 469.74 115 470.55 114.91 471.35 114.82 472.16 114.73 472.97 114.64 473.78 114.55 474.58 114.46 475.39 114.36 476.2 114.27 477 114.17 477.81 114.07 478.61 113.97 479.42 113.87 480.22 113.77 481.03 113.67 481.83 113.57 482.63 113.46 483.44 113.35 484.24 113.25 485.04 113.14 485.85 113.03 486.65 112.92 487.45 112.81 488.25 112.69 489.05 112.58 489.85 112.46 490.65 112.35 491.45 112.23 492.25 112.11 493.05 111.99 493.85 111.87 494.65 111.74 495.45 111.62 496.25 111.49 497.04 111.37 497.84 111.24 498.64 111.11 499.43 110.98 500.23 110.84 501.03 110.71 501.82 110.57 502.62 110.44 503.41 110.3 504.2 110.16 505 110.02 505.79 109.88 506.58 109.74 507.37 109.59 508.17 109.45 508.96 109.3 509.75 109.15 510.54 109 511.32 108.84 512.09 108.66 512.82 108.43 513.5 108.14 514.11 107.76 514.64 107.27 515.1 106.69 515.47 106.02 515.78 105.28 516.03 104.48 516.22 103.65 516.37 102.78 516.47 101.91 516.54 101.02 516.58 100.13 516.59 99.23 516.57 98.32 516.54 97.42 516.49 96.51 516.44 95.61 516.37 94.72 516.31 93.84 516.25 92.97 516.2 92.11 516.16 91.26 516.14 90.44 516.14 89.64 516.16 88.86 516.22 88.1 516.31 87.38 516.44 86.68 516.61 86.02" fill="none" stroke="#00e600" stroke-width="1.7" stroke-linejoin="round" stroke-linecap="butt"/><path d="M375.52 119.76 376.33 119.74 377.15 119.72 377.96 119.7 378.78 119.68 379.59 119.66 380.41 119.65 381.22 119.63 382.04 119.61 382.85 119.6 383.67 119.58 384.49 119.56 385.3 119.55 386.12 119.53 386.94 119.51 387.76 119.5 388.57 119.48 389.39 119.47 390.21 119.45 391.03 119.44 391.85 119.42 392.67 119.41 393.49 119.39 394.31 119.38 395.13 119.36 395.95 119.35 396.77 119.33 397.59 119.32 398.41 119.3 399.23 119.28 400.05 119.27 400.87 119.25 401.7 119.24 402.52 119.22 403.34 119.21 404.16 119.19 404.98 119.18 405.81 119.16 406.63 119.14 407.45 119.13 408.28 119.11 409.1 119.09 409.92 119.08 410.75 119.06 411.57 119.04 412.39 119.02 413.22 119 414.04 118.99 414.86 118.97 415.69 118.95 416.51 118.93 417.34 118.91 418.16 118.89 418.98 118.87 419.81 118.85 420.63 118.83 421.46 118.8 422.28 118.78 423.11 118.76 423.93 118.74 424.76 118.71 425.58 118.69 426.41 118.66 427.23 118.64 428.05 118.61 428.88 118.59 429.7 118.56 430.53 118.53 431.35 118.51 432.18 118.48 433 118.45 433.83 118.42 434.65 118.39 435.48 118.36 436.3 118.33 437.13 118.29 437.95 118.26 438.77 118.23 439.6 118.19 440.42 118.16 441.25 118.12 442.07 118.08 442.9 118.05 443.72 118.01 444.54 117.97 445.37 117.93 446.19 117.89 447.02 117.85 447.84 117.81 448.66 117.76 449.49 117.72 450.31 117.67 451.13 117.63 451.95 117.58 452.78 117.53 453.6 117.48 454.42 117.44 455.24 117.38 456.07 117.33 456.89 117.28 457.71 117.23 458.53 117.17 459.35 117.12 460.17 117.06 461 117 461.82 116.94 462.64 116.88 463.46 116.82 464.28 116.76 465.1 116.7 465.92 116.63 466.74 116.57 467.56 116.5 468.37 116.43 469.19 116.36 470.01 116.29 470.83 116.22 471.65 116.15 472.47 116.07 473.28 116 474.1 115.92 474.92 115.84 475.73 115.76 476.55 115.68 477.37 115.6 478.18 115.52 479 115.43 479.81 115.35 480.63 115.26 481.44 115.17 482.25 115.08 483.07 114.99 483.88 114.9 484.69 114.8 485.51 114.7 486.32 114.61 487.13 114.51 487.94 114.41 488.75 114.3 489.56 114.2 490.38 114.1 491.19 113.99 491.99 113.88 492.8 113.77 493.61 113.66 494.42 113.55 495.23 113.43 496.04 113.31 496.84 113.2 497.65 113.08 498.46 112.95 499.26 112.83 500.07 112.71 500.87 112.58 501.68 112.45 502.48 112.32 503.28 112.19 504.09 112.05 504.89 111.92 505.69 111.78 506.49 111.64 507.29 111.5 508.1 111.36 508.9 111.21 509.69 111.07 510.49 110.91 511.27 110.74 512.02 110.53 512.73 110.25 513.37 109.89 513.93 109.43 514.4 108.86 514.8 108.2 515.13 107.47 515.4 106.67 515.6 105.83 515.76 104.96 515.88 104.07 515.96 103.18 516 102.28 516.01 101.37 516 100.45 515.97 99.53 515.91 98.62 515.85 97.7 515.77 96.79 515.69 95.88 515.61 94.98 515.53 94.09 515.46 93.21 515.4 92.35 515.35 91.5 515.32 90.67 515.32 89.86 515.34 89.07 515.39 88.3 515.48 87.56 515.61 86.85 515.79 86.16 516.01 85.51" fill="none" stroke="#0000ff" stroke-width="1.7" stroke-linejoin="round" stroke-linecap="butt"/><path d="M375.52 120.16 376.35 120.13 377.17 120.1 378 120.06 378.83 120.03 379.65 120 380.48 119.97 381.31 119.94 382.13 119.91 382.96 119.89 383.79 119.86 384.62 119.84 385.45 119.81 386.28 119.79 387.11 119.76 387.94 119.74 388.77 119.72 389.6 119.7 390.43 119.68 391.27 119.66 392.1 119.65 392.93 119.63 393.76 119.61 394.59 119.6 395.43 119.58 396.26 119.56 397.09 119.55 397.93 119.54 398.76 119.52 399.6 119.51 400.43 119.5 401.27 119.49 402.1 119.47 402.94 119.46 403.77 119.45 404.61 119.44 405.44 119.43 406.28 119.42 407.12 119.41 407.95 119.4 408.79 119.39 409.63 119.38 410.46 119.38 411.3 119.37 412.14 119.36 412.97 119.35 413.81 119.34 414.65 119.33 415.49 119.33 416.32 119.32 417.16 119.31 418 119.3 418.84 119.29 419.68 119.28 420.52 119.28 421.35 119.27 422.19 119.26 423.03 119.25 423.87 119.24 424.71 119.23 425.55 119.22 426.39 119.21 427.23 119.2 428.06 119.19 428.9 119.18 429.74 119.17 430.58 119.16 431.42 119.15 432.26 119.14 433.1 119.12 433.94 119.11 434.78 119.1 435.61 119.08 436.45 119.07 437.29 119.05 438.13 119.04 438.97 119.02 439.81 119 440.65 118.98 441.49 118.97 442.32 118.95 443.16 118.93 444 118.91 444.84 118.88 445.68 118.86 446.51 118.84 447.35 118.82 448.19 118.79 449.03 118.76 449.87 118.74 450.7 118.71 451.54 118.68 452.38 118.65 453.21 118.62 454.05 118.59 454.89 118.56 455.72 118.52 456.56 118.49 457.4 118.45 458.23 118.42 459.07 118.38 459.9 118.34 460.74 118.3 461.57 118.26 462.41 118.21 463.24 118.17 464.08 118.12 464.91 118.08 465.74 118.03 466.58 117.98 467.41 117.93 468.24 117.88 469.08 117.82 469.91 117.77 470.74 117.71 471.57 117.65 472.41 117.59 473.24 117.53 474.07 117.47 474.9 117.4 475.73 117.33 476.56 117.27 477.39 117.2 478.22 117.12 479.05 117.05 479.88 116.98 480.7 116.9 481.53 116.82 482.36 116.74 483.19 116.66 484.01 116.57 484.84 116.49 485.67 116.4 486.49 116.31 487.32 116.22 488.14 116.13 488.97 116.03 489.79 115.93 490.61 115.83 491.44 115.73 492.26 115.63 493.08 115.52 493.9 115.41 494.72 115.3 495.54 115.19 496.36 115.07 497.18 114.96 498 114.84 498.82 114.72 499.64 114.59 500.46 114.47 501.28 114.34 502.09 114.21 502.91 114.07 503.72 113.94 504.54 113.8 505.35 113.66 506.17 113.51 506.98 113.37 507.8 113.22 508.61 113.07 509.42 112.92 510.22 112.75 511 112.55 511.74 112.29 512.41 111.96 513.02 111.53 513.53 110.99 513.97 110.35 514.33 109.62 514.62 108.83 514.85 107.99 515.03 107.11 515.16 106.22 515.25 105.31 515.31 104.4 515.33 103.48 515.32 102.56 515.29 101.63 515.24 100.7 515.17 99.77 515.08 98.83 514.99 97.91 514.88 96.98 514.78 96.06 514.67 95.15 514.57 94.24 514.48 93.35 514.39 92.47 514.33 91.6 514.28 90.75 514.25 89.91 514.25 89.09 514.29 88.29 514.35 87.52 514.45 86.76 514.59 86.03 514.78 85.33 515.02 84.65 515.3 84.01" fill="none" stroke="#00ffff" stroke-width="1.7" stroke-linejoin="round" stroke-linecap="butt"/><path d="M375.52 120.67 376.37 120.63 377.22 120.59 378.06 120.55 378.91 120.51 379.76 120.48 380.61 120.45 381.46 120.41 382.3 120.38 383.15 120.35 384 120.33 384.86 120.3 385.71 120.27 386.56 120.25 387.41 120.22 388.26 120.2 389.11 120.18 389.97 120.16 390.82 120.14 391.67 120.13 392.53 120.11 393.38 120.09 394.24 120.08 395.09 120.06 395.95 120.05 396.8 120.04 397.66 120.03 398.51 120.02 399.37 120.01 400.23 120 401.08 119.99 401.94 119.98 402.8 119.97 403.65 119.97 404.51 119.96 405.37 119.95 406.23 119.95 407.09 119.94 407.95 119.94 408.8 119.94 409.66 119.93 410.52 119.93 411.38 119.93 412.24 119.92 413.1 119.92 413.96 119.92 414.82 119.92 415.68 119.92 416.54 119.91 417.4 119.91 418.26 119.91 419.12 119.91 419.99 119.91 420.85 119.91 421.71 119.91 422.57 119.91 423.43 119.9 424.29 119.9 425.15 119.9 426.01 119.9 426.88 119.9 427.74 119.89 428.6 119.89 429.46 119.89 430.32 119.89 431.18 119.88 432.05 119.88 432.91 119.87 433.77 119.87 434.63 119.86 435.49 119.86 436.35 119.85 437.21 119.84 438.08 119.84 438.94 119.83 439.8 119.82 440.66 119.81 441.52 119.8 442.38 119.79 443.24 119.78 444.1 119.76 444.96 119.75 445.83 119.74 446.69 119.72 447.55 119.7 448.41 119.69 449.27 119.67 450.13 119.65 450.99 119.63 451.85 119.61 452.71 119.58 453.57 119.56 454.42 119.54 455.28 119.51 456.14 119.48 457 119.45 457.86 119.42 458.72 119.39 459.58 119.36 460.43 119.33 461.29 119.29 462.15 119.25 463 119.21 463.86 119.17 464.72 119.13 465.57 119.09 466.43 119.05 467.29 119 468.14 118.95 469 118.9 469.85 118.85 470.7 118.8 471.56 118.74 472.41 118.69 473.26 118.63 474.12 118.57 474.97 118.5 475.82 118.44 476.67 118.37 477.53 118.31 478.38 118.23 479.23 118.16 480.08 118.09 480.93 118.01 481.78 117.93 482.63 117.85 483.47 117.77 484.32 117.68 485.17 117.6 486.02 117.51 486.86 117.41 487.71 117.32 488.56 117.22 489.4 117.12 490.25 117.02 491.09 116.92 491.93 116.81 492.78 116.7 493.62 116.59 494.46 116.47 495.3 116.36 496.15 116.24 496.99 116.12 497.83 115.99 498.67 115.86 499.5 115.73 500.34 115.6 501.18 115.46 502.02 115.32 502.85 115.18 503.69 115.04 504.53 114.89 505.36 114.74 506.19 114.58 507.03 114.43 507.86 114.27 508.69 114.1 509.51 113.92 510.3 113.69 511.04 113.41 511.71 113.03 512.3 112.55 512.8 111.96 513.22 111.26 513.56 110.48 513.83 109.65 514.04 108.77 514.21 107.86 514.32 106.94 514.4 106.01 514.44 105.08 514.45 104.13 514.43 103.18 514.38 102.23 514.3 101.27 514.21 100.31 514.1 99.35 513.97 98.39 513.84 97.43 513.7 96.47 513.55 95.52 513.4 94.57 513.26 93.63 513.12 92.7 512.99 91.78 512.87 90.87 512.77 89.97 512.69 89.08 512.63 88.21 512.59 87.35 512.59 86.51 512.62 85.69 512.68 84.88 512.78 84.1 512.93 83.34 513.12 82.6 513.36 81.89 513.65 81.2 514 80.54 514.4 79.9" fill="none" stroke="#ff00ff" stroke-width="1.7" stroke-linejoin="round" stroke-linecap="butt"/><path d="M375.52 121.37 376.37 121.33 377.21 121.28 378.05 121.24 378.9 121.2 379.74 121.16 380.59 121.12 381.43 121.08 382.28 121.05 383.12 121.02 383.97 120.99 384.82 120.96 385.66 120.93 386.51 120.9 387.36 120.88 388.21 120.86 389.06 120.83 389.91 120.81 390.76 120.79 391.61 120.78 392.46 120.76 393.31 120.75 394.16 120.73 395.01 120.72 395.87 120.71 396.72 120.7 397.57 120.69 398.42 120.68 399.28 120.67 400.13 120.67 400.98 120.66 401.84 120.66 402.69 120.65 403.55 120.65 404.4 120.65 405.26 120.65 406.11 120.65 406.97 120.65 407.83 120.65 408.68 120.65 409.54 120.65 410.4 120.66 411.25 120.66 412.11 120.66 412.97 120.67 413.82 120.67 414.68 120.68 415.54 120.68 416.4 120.69 417.26 120.69 418.11 120.7 418.97 120.71 419.83 120.71 420.69 120.72 421.55 120.73 422.41 120.73 423.26 120.74 424.12 120.75 424.98 120.75 425.84 120.76 426.7 120.76 427.56 120.77 428.42 120.78 429.28 120.78 430.14 120.79 431 120.79 431.86 120.8 432.71 120.8 433.57 120.8 434.43 120.81 435.29 120.81 436.15 120.81 437.01 120.81 437.87 120.81 438.73 120.81 439.59 120.81 440.45 120.81 441.3 120.81 442.16 120.81 443.02 120.8 443.88 120.8 444.74 120.79 445.6 120.79 446.45 120.78 447.31 120.77 448.17 120.76 449.03 120.75 449.89 120.74 450.74 120.73 451.6 120.71 452.46 120.7 453.31 120.68 454.17 120.66 455.03 120.64 455.88 120.62 456.74 120.6 457.59 120.58 458.45 120.55 459.3 120.52 460.16 120.5 461.01 120.47 461.87 120.43 462.72 120.4 463.58 120.37 464.43 120.33 465.28 120.29 466.14 120.25 466.99 120.21 467.84 120.16 468.69 120.12 469.54 120.07 470.39 120.02 471.25 119.97 472.1 119.91 472.95 119.86 473.8 119.8 474.64 119.74 475.49 119.68 476.34 119.61 477.19 119.54 478.04 119.47 478.88 119.4 479.73 119.33 480.58 119.25 481.42 119.17 482.27 119.09 483.11 119.01 483.96 118.92 484.8 118.83 485.65 118.74 486.49 118.64 487.33 118.54 488.17 118.44 489.01 118.34 489.86 118.23 490.7 118.12 491.54 118.01 492.37 117.9 493.21 117.78 494.05 117.66 494.89 117.53 495.73 117.41 496.56 117.28 497.4 117.14 498.23 117.01 499.07 116.87 499.9 116.72 500.73 116.58 501.57 116.43 502.4 116.27 503.23 116.12 504.06 115.96 504.89 115.79 505.72 115.63 506.55 115.46 507.38 115.28 508.19 115.09 508.99 114.87 509.74 114.59 510.43 114.24 511.04 113.78 511.57 113.22 512 112.55 512.36 111.8 512.66 110.98 512.89 110.12 513.06 109.23 513.19 108.32 513.29 107.4 513.34 106.47 513.36 105.53 513.34 104.59 513.3 103.64 513.23 102.69 513.14 101.73 513.04 100.77 512.91 99.81 512.78 98.86 512.64 97.9 512.49 96.95 512.33 96 512.18 95.06 512.04 94.12 511.9 93.2 511.77 92.28 511.65 91.37 511.56 90.48 511.48 89.6 511.42 88.73 511.4 87.88 511.4 87.04 511.43 86.23 511.51 85.43 511.62 84.66 511.77 83.9 511.97 83.17 512.22 82.46 512.53 81.78 512.88 81.13 513.3 80.5" fill="none" stroke="#e8c840" stroke-width="1.7" stroke-linejoin="round" stroke-linecap="butt"/><rect x="515" y="84.2" width="1.6" height="1.6" fill="#0000ff"/><rect x="520.1" y="84.2" width="1.6" height="1.6" fill="#0000ff"/><path d="M528.4 82.7 528 90 527.6 96.9" fill="none" stroke="#00ffff" stroke-width="1.8" stroke-linejoin="round" stroke-linecap="butt"/><path d="M566.9 194.5 567.4 194.09 567.91 193.67 568.41 193.25 568.9 192.83 569.4 192.4 569.89 191.97 570.37 191.53 570.85 191.09 571.33 190.64 571.8 190.19 572.27 189.73 572.74 189.27 573.19 188.8 573.64 188.33 574.09 187.85 574.53 187.37 574.96 186.88 575.38 186.38 575.8 185.88 576.21 185.37 576.61 184.85 577.01 184.33 577.39 183.81 577.77 183.27 578.13 182.73 578.49 182.18 578.84 181.63 579.17 181.07 579.5 180.5" fill="none" stroke="#ff0000" stroke-width="1.6" stroke-linejoin="round" stroke-linecap="butt"/><path d="M580.6 179.3 581.4 176.6 581.6 174.8" fill="none" stroke="#00e600" stroke-width="1.7" stroke-linejoin="round" stroke-linecap="butt"/><circle cx="520.8" cy="212.0" r="1.1" fill="#ff0000"/><path d="M501.2 104.6L508.34 120.44" stroke="#000" stroke-width="1.1" fill="none"/><path d="M510.4 125L505.15 119.69L509.89 117.55Z" fill="#000"/><path d="M41.8 5.77V237.67H315M75.93 237.67v-3M102.41 237.67v-3M124.04 237.67v-3M142.33 237.67v-3M158.17 237.67v-3M172.15 237.67v-3M184.65 237.67v-3M266.89 237.67v-3M315 237.67v-3M41.8 237.67v-3M41.8 197.25h3M41.8 119.95h3M41.8 42.65h3M41.8 237.67h1.5M41.8 228.01h1.5M41.8 220.52h1.5M41.8 214.4h1.5M41.8 209.22h1.5M41.8 204.74h1.5M41.8 200.79h1.5M41.8 173.98h1.5M41.8 160.37h1.5M41.8 150.71h1.5M41.8 143.22h1.5M41.8 137.1h1.5M41.8 131.92h1.5M41.8 127.44h1.5M41.8 123.49h1.5M41.8 96.68h1.5M41.8 83.07h1.5M41.8 73.41h1.5M41.8 65.92h1.5M41.8 59.8h1.5M41.8 54.62h1.5M41.8 50.14h1.5M41.8 46.19h1.5M41.8 19.38h1.5M41.8 5.77h1.5" fill="none" stroke="#111" stroke-width="1"/><path d="M375.5 5.97V237.73H645.4M409.22 237.73v-3M435.38 237.73v-3M456.75 237.73v-3M474.82 237.73v-3M490.47 237.73v-3M504.28 237.73v-3M516.62 237.73v-3M597.87 237.73v-3M645.4 237.73v-3M375.5 237.73v-3M375.5 226.14h3M375.5 208.76h3M375.5 191.38h3M375.5 174h3M375.5 156.61h3M375.5 139.23h3M375.5 121.85h3M375.5 104.47h3M375.5 87.09h3M375.5 69.7h3M375.5 52.32h3M375.5 34.94h3M375.5 17.56h3" fill="none" stroke="#111" stroke-width="1"/><g font-size="10.3" fill="#000"><text x="42.1" y="251.6" text-anchor="middle">0.3</text><text x="375.8" y="251.6" text-anchor="middle">0.3</text><text x="76.23" y="251.6" text-anchor="middle">0.4</text><text x="409.52" y="251.6" text-anchor="middle">0.4</text><text x="102.71" y="251.6" text-anchor="middle">0.5</text><text x="435.68" y="251.6" text-anchor="middle">0.5</text><text x="124.34" y="251.6" text-anchor="middle">0.6</text><text x="457.05" y="251.6" text-anchor="middle">0.6</text><text x="158.47" y="251.6" text-anchor="middle">0.8</text><text x="490.77" y="251.6" text-anchor="middle">0.8</text><text x="184.95" y="251.6" text-anchor="middle">1</text><text x="516.92" y="251.6" text-anchor="middle">1</text><text x="267.19" y="251.6" text-anchor="middle">2</text><text x="598.17" y="251.6" text-anchor="middle">2</text><text x="315.3" y="251.6" text-anchor="middle">3</text><text x="645.7" y="251.6" text-anchor="middle">3</text><text x="31.0" y="201.25" text-anchor="end">10</text><text x="31.1" y="194.55" font-size="7.3">0</text><text x="31.0" y="123.95" text-anchor="end">10</text><text x="31.1" y="117.25" font-size="7.3">1</text><text x="31.0" y="46.65" text-anchor="end">10</text><text x="31.1" y="39.95" font-size="7.3">2</text><text x="373" y="230.04" text-anchor="end">−180</text><text x="373" y="212.66" text-anchor="end">−150</text><text x="373" y="195.28" text-anchor="end">−120</text><text x="373" y="177.9" text-anchor="end">−90</text><text x="373" y="160.51" text-anchor="end">−60</text><text x="373" y="143.13" text-anchor="end">−30</text><text x="373" y="125.75" text-anchor="end">0</text><text x="373" y="108.37" text-anchor="end">30</text><text x="373" y="90.99" text-anchor="end">60</text><text x="373" y="73.6" text-anchor="end">90</text><text x="373" y="56.22" text-anchor="end">120</text><text x="373" y="38.84" text-anchor="end">150</text><text x="373" y="21.46" text-anchor="end">180</text></g><text x="178.6" y="265.9" text-anchor="middle" font-size="10.75">normalized excitation frequency, ω</text><text x="510.5" y="265.9" text-anchor="middle" font-size="10.75">normalized excitation frequency, ω</text><text transform="translate(7.8,121.4) rotate(-90)" text-anchor="middle" font-size="10.75">high orbit, linear oscillator response, r<tspan font-size="8.3" dy="4.2">2</tspan></text><text transform="translate(338.3,121.1) rotate(-90)" text-anchor="middle" font-size="10.75">high orbit, linear oscillator phase, φ<tspan font-size="8.3" dy="3.4">2</tspan></text><text x="45" y="9.4" font-size="12.3">(a)</text><text x="377.5" y="9.4" font-size="12.3">(b)</text><text x="84.7" y="123.2" font-size="12.75">as mass ratio</text><text x="84.7" y="138.8" font-size="12.75">increases</text><text x="436.3" y="136.8" font-size="12.75">as mass ratio</text><text x="436.3" y="152.8" font-size="12.75">increases</text><rect x="212.5" y="5.8" width="109.1" height="132.4" fill="#fff" stroke="#6a6a6a" stroke-width="0.9"/><path d="M212.5 5.8H321.6" stroke="#b4b4b4" stroke-width="1.1"/><g font-size="12.6"><text x="217.5" y="19">All sub-figs:</text><text x="217.5" y="35.2">auxiliary linear</text><text x="217.5" y="51.3">oscillator:</text></g><path d="M218 61.2H240.8" stroke="#ff0000" stroke-width="1.7"/><text x="244.6" y="64.6" font-family="Liberation Serif" font-style="italic" font-size="13.5" style="stroke-width:0.1px">μ</text><path d="M256.3 59.85H265.5M256.3 63.05H265.5" stroke="#000" stroke-width="0.85"/><text x="269.0" y="64.6" font-family="Liberation Serif" font-size="12.75" style="stroke-width:0.05px">0.003</text><path d="M218 72.1H240.8" stroke="#00e600" stroke-width="1.7"/><text x="244.6" y="75.5" font-family="Liberation Serif" font-style="italic" font-size="13.5" style="stroke-width:0.1px">μ</text><path d="M256.3 70.75H265.5M256.3 73.95H265.5" stroke="#000" stroke-width="0.85"/><text x="269.0" y="75.5" font-family="Liberation Serif" font-size="12.75" style="stroke-width:0.05px">0.01</text><path d="M218 83H240.8" stroke="#0000ff" stroke-width="1.7"/><text x="244.6" y="86.4" font-family="Liberation Serif" font-style="italic" font-size="13.5" style="stroke-width:0.1px">μ</text><path d="M256.3 81.65H265.5M256.3 84.85H265.5" stroke="#000" stroke-width="0.85"/><text x="269.0" y="86.4" font-family="Liberation Serif" font-size="12.75" style="stroke-width:0.05px">0.1</text><path d="M218 93.9H240.8" stroke="#00ffff" stroke-width="1.7"/><text x="244.6" y="97.3" font-family="Liberation Serif" font-style="italic" font-size="13.5" style="stroke-width:0.1px">μ</text><path d="M256.3 92.55H265.5M256.3 95.75H265.5" stroke="#000" stroke-width="0.85"/><text x="269.0" y="97.3" font-family="Liberation Serif" font-size="12.75" style="stroke-width:0.05px">0.3</text><path d="M218 104.8H240.8" stroke="#ff00ff" stroke-width="1.7"/><text x="244.6" y="108.2" font-family="Liberation Serif" font-style="italic" font-size="13.5" style="stroke-width:0.1px">μ</text><path d="M256.3 103.45H265.5M256.3 106.65H265.5" stroke="#000" stroke-width="0.85"/><text x="269.0" y="108.2" font-family="Liberation Serif" font-size="12.75" style="stroke-width:0.05px">1</text><path d="M218 115.7H240.8" stroke="#e8c840" stroke-width="1.7"/><text x="244.6" y="119.1" font-family="Liberation Serif" font-style="italic" font-size="13.5" style="stroke-width:0.1px">μ</text><path d="M256.3 114.35H265.5M256.3 117.55H265.5" stroke="#000" stroke-width="0.85"/><text x="269.0" y="119.1" font-family="Liberation Serif" font-size="12.75" style="stroke-width:0.05px">2</text><path d="M218 132H240.8" stroke="#909090" stroke-width="1.6"/><text x="244.5" y="135.7" font-size="12.6">unstable</text>
</svg>
</body></html>
